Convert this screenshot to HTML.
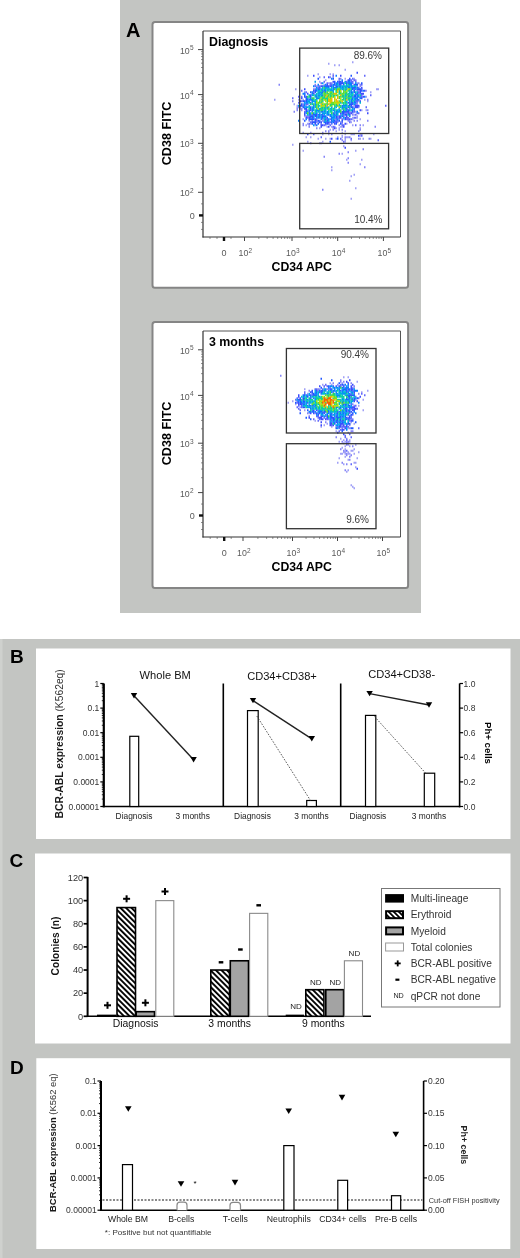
<!DOCTYPE html>
<html><head><meta charset="utf-8"><style>
html,body{margin:0;padding:0;background:#fff;}
svg{display:block;font-family:"Liberation Sans", sans-serif;filter:blur(0.35px);}
</style></head><body>
<svg width="520" height="1258" viewBox="0 0 520 1258">
<rect x="120.00" y="0.00" width="301.00" height="613.00" fill="#c3c5c2" stroke="none" stroke-width="1" />
<rect x="0.00" y="639.00" width="520.00" height="619.00" fill="#c3c5c2" stroke="none" stroke-width="1" />
<rect x="0.00" y="639.00" width="2.50" height="619.00" fill="#cfd1ce" stroke="none" stroke-width="1" />
<text x="126.00" y="37.00" font-size="20" text-anchor="start" font-weight="bold" fill="#000" >A</text>
<rect x="152.5" y="22" width="255.6" height="265.8" rx="2.5" fill="#fff" stroke="#858585" stroke-width="2"/>
<line x1="203.00" y1="31.00" x2="400.50" y2="31.00" stroke="#555" stroke-width="1" />
<line x1="400.50" y1="31.00" x2="400.50" y2="237.00" stroke="#555" stroke-width="1" />
<path d="M352.0 62.25h1.5M328.0 63.75h1.5M334.0 65.25h1.5M338.5 65.25h1.5M344.5 69.75h1.5M317.5 74.25h1.5M329.5 74.25h1.5M332.5 74.25h1.5M307.0 75.75h1.5M319.0 77.25h1.5M332.5 77.25h1.5M344.5 78.75h1.5M353.5 78.75h1.5M325.0 80.25h1.5M338.5 80.25h1.5M319.0 81.75h1.5M328.0 83.25h1.5M356.5 83.25h1.5M323.5 84.75h1.5M316.0 86.25h1.5M356.5 86.25h1.5M295.0 89.25h1.5M376.0 89.25h3.0M358.0 90.75h1.5M365.5 90.75h1.5M370.0 92.25h1.5M365.5 96.75h1.5M308.5 98.25h1.5M274.0 99.75h1.5M298.0 99.75h1.5M302.5 99.75h1.5M364.0 99.75h1.5M358.0 101.25h1.5M367.0 101.25h1.5M293.5 104.25h1.5M356.5 104.25h1.5M296.5 105.75h1.5M305.5 105.75h1.5M353.5 105.75h1.5M296.5 107.25h1.5M299.5 107.25h1.5M353.5 107.25h1.5M299.5 108.75h1.5M361.0 110.25h1.5M365.5 110.25h1.5M350.5 111.75h1.5M355.0 111.75h1.5M352.0 113.25h1.5M353.5 114.75h1.5M304.0 116.25h1.5M356.5 116.25h1.5M352.0 117.75h1.5M356.5 117.75h1.5M302.5 119.25h1.5M338.5 119.25h1.5M343.0 119.25h1.5M352.0 119.25h1.5M359.5 119.25h1.5M349.0 120.75h1.5M317.5 122.25h1.5M350.5 122.25h1.5M307.0 123.75h1.5M310.0 123.75h1.5M341.5 123.75h1.5M346.0 123.75h1.5M305.5 125.25h1.5M308.5 125.25h1.5M314.5 125.25h1.5M325.0 125.25h1.5M352.0 125.25h1.5M362.5 125.25h1.5M326.5 126.75h1.5M331.0 126.75h1.5M340.0 126.75h3.0M319.0 128.25h1.5M332.5 128.25h1.5M335.5 128.25h1.5M338.5 128.25h1.5M359.5 128.25h1.5M329.5 129.75h1.5M338.5 129.75h1.5M335.5 131.25h1.5M344.5 131.25h1.5M302.5 132.75h1.5M310.0 132.75h1.5M328.0 132.75h1.5M341.5 132.75h1.5M322.0 134.25h1.5M328.0 134.25h1.5M344.5 134.25h1.5M350.5 134.25h4.5M359.5 134.25h3.0M373.0 134.25h1.5M341.5 135.75h1.5M359.5 135.75h1.5M305.5 137.25h1.5M310.0 137.25h1.5M337.0 137.25h1.5M341.5 137.25h1.5M346.0 137.25h3.0M317.5 138.75h1.5M325.0 138.75h1.5M329.5 138.75h1.5M335.5 138.75h1.5M344.5 138.75h1.5M359.5 138.75h1.5M362.5 138.75h1.5M370.0 138.75h1.5M344.5 140.25h1.5M350.5 140.25h1.5M307.0 141.75h1.5M322.0 141.75h1.5M344.5 141.75h1.5M319.0 143.25h3.0M292.0 144.75h1.5M343.0 146.25h1.5M302.5 150.75h1.5M355.0 150.75h1.5M341.5 153.75h1.5M346.0 159.75h1.5M361.0 159.75h1.5M359.5 164.25h1.5M331.0 167.25h1.5M331.0 170.25h1.5M353.5 174.75h1.5M350.5 176.25h1.5M349.0 180.75h1.5M355.0 188.25h1.5M350.5 198.75h1.5" stroke="#a0a0f6" stroke-width="1.85" fill="none"/>
<path d="M329.5 77.25h1.5M340.0 78.75h1.5M355.0 80.25h1.5M331.0 83.25h1.5M358.0 83.25h1.5M278.5 84.75h1.5M314.5 84.75h1.5M359.5 84.75h1.5M317.5 86.25h1.5M359.5 86.25h1.5M313.0 89.25h1.5M356.5 90.75h1.5M304.0 92.25h1.5M313.0 92.25h1.5M358.0 93.75h1.5M367.0 99.75h1.5M292.0 101.25h1.5M356.5 102.75h1.5M302.5 104.25h1.5M298.0 107.25h1.5M358.0 107.25h1.5M296.5 108.75h1.5M301.0 108.75h1.5M296.5 110.25h1.5M301.0 110.25h1.5M307.0 110.25h1.5M367.0 110.25h1.5M293.5 111.75h1.5M349.0 111.75h1.5M344.5 113.25h3.0M340.0 114.75h1.5M352.0 114.75h1.5M305.5 116.25h3.0M322.0 119.25h1.5M334.0 119.25h1.5M308.5 120.75h1.5M311.5 120.75h1.5M322.0 120.75h1.5M347.5 120.75h1.5M353.5 120.75h1.5M356.5 120.75h1.5M367.0 120.75h1.5M316.0 122.25h1.5M337.0 122.25h1.5M340.0 122.25h1.5M302.5 123.75h1.5M320.5 123.75h1.5M302.5 125.25h1.5M338.5 125.25h1.5M359.5 125.25h1.5M308.5 126.75h1.5M334.0 126.75h1.5M374.5 126.75h1.5M316.0 128.25h1.5M332.5 129.75h1.5M341.5 129.75h1.5M359.5 129.75h1.5M325.0 131.25h1.5M328.0 131.25h1.5M358.0 131.25h1.5M322.0 132.75h1.5M331.0 134.25h1.5M344.5 137.25h1.5M349.0 137.25h1.5M358.0 138.75h1.5M368.5 138.75h1.5M341.5 140.25h1.5M310.0 143.25h1.5M362.5 149.25h1.5M347.5 152.25h1.5M338.5 153.75h1.5M323.5 156.75h1.5M347.5 158.25h1.5M347.5 162.75h1.5M364.0 167.25h1.5M322.0 189.75h1.5" stroke="#8484f8" stroke-width="1.85" fill="none"/>
<path d="M332.5 75.75h1.5M364.0 75.75h1.5M323.5 77.25h1.5M338.5 78.75h1.5M352.0 78.75h1.5M350.5 80.25h1.5M353.5 80.25h1.5M323.5 81.75h1.5M346.0 81.75h1.5M350.5 81.75h3.0M355.0 81.75h1.5M320.5 83.25h1.5M326.5 83.25h1.5M329.5 83.25h1.5M352.0 83.25h1.5M329.5 84.75h3.0M361.0 84.75h1.5M314.5 86.25h1.5M319.0 86.25h1.5M317.5 87.75h1.5M358.0 87.75h1.5M314.5 89.25h1.5M353.5 89.25h1.5M361.0 89.25h1.5M301.0 90.75h1.5M305.5 92.25h1.5M358.0 92.25h1.5M359.5 93.75h1.5M361.0 95.25h1.5M370.0 95.25h1.5M298.0 96.75h1.5M301.0 96.75h1.5M352.0 96.75h1.5M359.5 96.75h3.0M292.0 98.25h1.5M301.0 101.25h1.5M355.0 101.25h3.0M298.0 102.75h1.5M305.5 104.25h3.0M355.0 104.25h1.5M302.5 105.75h1.5M385.0 105.75h1.5M365.5 107.25h1.5M349.0 108.75h1.5M353.5 110.25h1.5M304.0 111.75h1.5M319.0 111.75h1.5M353.5 111.75h1.5M349.0 113.25h1.5M356.5 113.25h3.0M311.5 114.75h1.5M343.0 114.75h1.5M355.0 114.75h1.5M308.5 116.25h1.5M337.0 116.25h1.5M343.0 116.25h1.5M307.0 117.75h1.5M337.0 117.75h1.5M346.0 117.75h3.0M353.5 117.75h3.0M316.0 119.25h1.5M326.5 119.25h1.5M329.5 119.25h1.5M335.5 119.25h1.5M341.5 119.25h1.5M346.0 119.25h3.0M350.5 119.25h1.5M316.0 120.75h1.5M319.0 120.75h1.5M323.5 120.75h1.5M335.5 120.75h3.0M310.0 122.25h1.5M329.5 122.25h1.5M334.0 122.25h1.5M341.5 122.25h1.5M349.0 122.25h1.5M308.5 123.75h1.5M328.0 123.75h1.5M331.0 123.75h1.5M323.5 125.25h1.5M329.5 125.25h1.5M341.5 125.25h3.0M355.0 125.25h1.5M332.5 126.75h1.5M313.0 134.25h1.5M361.0 135.75h1.5M320.5 137.25h1.5M340.0 138.75h1.5M350.5 138.75h1.5M377.5 140.25h1.5M343.0 141.75h1.5" stroke="#6368fb" stroke-width="1.85" fill="none"/>
<path d="M356.5 72.75h1.5M313.0 75.75h1.5M340.0 75.75h1.5M328.0 77.25h1.5M349.0 78.75h1.5M347.5 80.25h1.5M332.5 81.75h1.5M338.5 81.75h1.5M341.5 81.75h1.5M338.5 83.25h4.5M347.5 83.25h1.5M326.5 84.75h1.5M353.5 84.75h1.5M320.5 86.25h3.0M325.0 86.25h3.0M329.5 86.25h1.5M337.0 86.25h1.5M361.0 87.75h1.5M304.0 89.25h1.5M317.5 89.25h3.0M356.5 89.25h1.5M313.0 90.75h1.5M361.0 90.75h1.5M364.0 90.75h1.5M353.5 92.25h1.5M307.0 93.75h1.5M313.0 93.75h1.5M361.0 93.75h3.0M310.0 95.25h1.5M305.5 96.75h1.5M362.5 96.75h1.5M301.0 98.25h1.5M356.5 99.75h1.5M299.5 101.25h1.5M304.0 101.25h1.5M359.5 101.25h1.5M310.0 102.75h1.5M347.5 102.75h1.5M350.5 102.75h1.5M352.0 104.25h1.5M299.5 105.75h1.5M350.5 105.75h1.5M355.0 105.75h4.5M352.0 107.25h1.5M355.0 107.25h3.0M304.0 108.75h3.0M305.5 110.25h1.5M310.0 110.25h1.5M359.5 110.25h1.5M346.0 111.75h3.0M304.0 113.25h1.5M308.5 113.25h1.5M332.5 113.25h1.5M340.0 113.25h1.5M350.5 113.25h1.5M367.0 113.25h1.5M304.0 114.75h1.5M316.0 114.75h1.5M322.0 114.75h1.5M334.0 114.75h1.5M346.0 114.75h1.5M349.0 114.75h1.5M310.0 116.25h3.0M316.0 116.25h1.5M319.0 116.25h1.5M338.5 116.25h1.5M346.0 116.25h1.5M305.5 117.75h1.5M308.5 117.75h1.5M311.5 117.75h1.5M317.5 117.75h1.5M322.0 117.75h1.5M338.5 117.75h3.0M308.5 119.25h1.5M314.5 119.25h1.5M325.0 119.25h1.5M349.0 119.25h1.5M314.5 120.75h1.5M311.5 122.25h1.5M320.5 122.25h1.5M326.5 122.25h3.0M335.5 122.25h1.5M314.5 123.75h1.5M325.0 123.75h1.5M334.0 123.75h1.5M344.5 123.75h1.5M320.5 125.25h3.0M320.5 126.75h1.5M328.0 126.75h1.5M343.0 126.75h1.5M334.0 128.25h1.5M307.0 134.25h1.5M358.0 135.75h1.5M331.0 138.75h1.5M344.5 147.75h1.5" stroke="#3d4cfd" stroke-width="1.85" fill="none"/>
<path d="M350.5 75.75h1.5M317.5 78.75h1.5M332.5 78.75h1.5M349.0 80.25h1.5M334.0 81.75h1.5M337.0 81.75h1.5M340.0 81.75h1.5M334.0 83.25h1.5M346.0 83.25h1.5M361.0 83.25h1.5M334.0 84.75h1.5M338.5 84.75h3.0M343.0 84.75h1.5M355.0 84.75h3.0M328.0 86.25h1.5M331.0 86.25h1.5M335.5 86.25h1.5M347.5 87.75h3.0M352.0 87.75h4.5M352.0 89.25h1.5M358.0 89.25h3.0M314.5 90.75h3.0M323.5 90.75h1.5M353.5 90.75h1.5M359.5 90.75h1.5M310.0 92.25h1.5M314.5 92.25h1.5M322.0 92.25h1.5M350.5 92.25h1.5M359.5 92.25h1.5M356.5 93.75h1.5M304.0 95.25h1.5M322.0 95.25h1.5M355.0 95.25h1.5M304.0 96.75h1.5M310.0 96.75h1.5M316.0 96.75h1.5M353.5 96.75h3.0M305.5 98.25h1.5M361.0 98.25h1.5M305.5 99.75h3.0M302.5 101.25h1.5M305.5 101.25h1.5M352.0 102.75h1.5M301.0 104.25h1.5M349.0 104.25h3.0M301.0 105.75h1.5M349.0 105.75h1.5M302.5 107.25h1.5M310.0 107.25h1.5M313.0 107.25h1.5M347.5 107.25h1.5M350.5 107.25h1.5M310.0 108.75h1.5M346.0 108.75h1.5M343.0 110.25h1.5M347.5 110.25h1.5M352.0 110.25h1.5M305.5 111.75h1.5M322.0 111.75h1.5M335.5 111.75h1.5M341.5 111.75h4.5M352.0 111.75h1.5M341.5 113.25h3.0M347.5 113.25h1.5M313.0 114.75h3.0M319.0 114.75h1.5M328.0 114.75h1.5M344.5 114.75h1.5M314.5 116.25h1.5M322.0 116.25h4.5M335.5 116.25h1.5M341.5 116.25h1.5M326.5 117.75h1.5M335.5 117.75h1.5M344.5 117.75h1.5M310.0 119.25h4.5M344.5 119.25h1.5M304.0 120.75h1.5M317.5 120.75h1.5M326.5 120.75h1.5M331.0 120.75h1.5M334.0 120.75h1.5M338.5 120.75h1.5M341.5 120.75h1.5M313.0 122.25h3.0M319.0 122.25h1.5M325.0 122.25h1.5M332.5 122.25h1.5M311.5 123.75h1.5M317.5 123.75h1.5M326.5 123.75h1.5M335.5 123.75h1.5M340.0 123.75h1.5M337.0 138.75h1.5M329.5 141.75h1.5" stroke="#2157ff" stroke-width="1.85" fill="none"/>
<path d="M335.5 75.75h1.5M331.0 78.75h1.5M341.5 80.25h1.5M344.5 81.75h1.5M347.5 81.75h3.0M335.5 83.25h3.0M343.0 83.25h1.5M349.0 83.25h3.0M317.5 84.75h1.5M325.0 84.75h1.5M332.5 84.75h1.5M335.5 84.75h1.5M349.0 84.75h3.0M313.0 86.25h1.5M323.5 86.25h1.5M332.5 86.25h1.5M338.5 86.25h3.0M350.5 86.25h1.5M316.0 87.75h1.5M319.0 87.75h1.5M328.0 87.75h1.5M332.5 87.75h4.5M341.5 87.75h1.5M344.5 87.75h1.5M356.5 87.75h1.5M332.5 89.25h1.5M346.0 89.25h1.5M322.0 90.75h1.5M325.0 90.75h1.5M350.5 90.75h1.5M362.5 90.75h1.5M311.5 92.25h1.5M325.0 92.25h1.5M302.5 93.75h3.0M311.5 93.75h1.5M320.5 93.75h1.5M355.0 93.75h1.5M314.5 95.25h1.5M317.5 95.25h3.0M353.5 95.25h1.5M356.5 95.25h1.5M347.5 96.75h1.5M356.5 96.75h3.0M364.0 96.75h1.5M310.0 98.25h1.5M316.0 98.25h3.0M352.0 98.25h1.5M355.0 98.25h3.0M359.5 98.25h1.5M308.5 99.75h4.5M350.5 99.75h3.0M355.0 99.75h1.5M358.0 99.75h1.5M311.5 101.25h1.5M350.5 101.25h1.5M353.5 101.25h1.5M305.5 102.75h3.0M353.5 102.75h3.0M304.0 104.25h1.5M314.5 104.25h1.5M304.0 105.75h1.5M313.0 105.75h1.5M341.5 105.75h6.0M305.5 107.25h1.5M326.5 107.25h1.5M341.5 107.25h1.5M311.5 108.75h1.5M353.5 108.75h1.5M308.5 110.25h1.5M311.5 110.25h1.5M316.0 110.25h3.0M332.5 110.25h1.5M338.5 110.25h1.5M346.0 110.25h1.5M308.5 111.75h1.5M311.5 111.75h1.5M320.5 111.75h1.5M323.5 111.75h1.5M326.5 111.75h1.5M356.5 111.75h1.5M313.0 113.25h1.5M316.0 113.25h1.5M326.5 113.25h1.5M335.5 113.25h1.5M308.5 114.75h3.0M317.5 114.75h1.5M320.5 114.75h1.5M329.5 114.75h1.5M335.5 114.75h1.5M329.5 116.25h3.0M334.0 116.25h1.5M340.0 116.25h1.5M349.0 116.25h1.5M310.0 117.75h1.5M313.0 117.75h1.5M320.5 117.75h1.5M331.0 117.75h3.0M305.5 119.25h1.5M320.5 119.25h1.5M328.0 119.25h1.5M331.0 119.25h1.5M337.0 119.25h1.5M298.0 120.75h1.5M332.5 120.75h1.5M323.5 122.25h1.5M331.0 122.25h1.5M316.0 125.25h1.5" stroke="#0d7cff" stroke-width="1.85" fill="none"/>
<path d="M314.5 81.75h1.5M322.0 83.25h1.5M355.0 83.25h1.5M346.0 84.75h1.5M341.5 86.25h1.5M346.0 86.25h4.5M353.5 86.25h1.5M325.0 87.75h3.0M340.0 87.75h1.5M350.5 87.75h1.5M316.0 89.25h1.5M320.5 89.25h1.5M323.5 89.25h3.0M331.0 89.25h1.5M341.5 89.25h1.5M355.0 89.25h1.5M317.5 90.75h1.5M329.5 90.75h4.5M319.0 92.25h3.0M332.5 92.25h1.5M349.0 92.25h1.5M352.0 92.25h1.5M356.5 92.25h1.5M317.5 93.75h3.0M350.5 93.75h1.5M308.5 95.25h1.5M311.5 95.25h1.5M320.5 95.25h1.5M349.0 95.25h1.5M307.0 98.25h1.5M319.0 98.25h1.5M344.5 98.25h1.5M353.5 98.25h1.5M307.0 101.25h3.0M313.0 101.25h3.0M346.0 101.25h1.5M304.0 102.75h1.5M314.5 102.75h1.5M340.0 102.75h1.5M349.0 102.75h1.5M311.5 104.25h1.5M353.5 104.25h1.5M298.0 105.75h1.5M308.5 105.75h1.5M325.0 105.75h1.5M347.5 105.75h1.5M304.0 107.25h1.5M307.0 107.25h1.5M322.0 107.25h1.5M331.0 107.25h1.5M335.5 107.25h1.5M343.0 107.25h3.0M313.0 108.75h1.5M338.5 108.75h1.5M341.5 108.75h1.5M344.5 108.75h1.5M352.0 108.75h1.5M313.0 110.25h1.5M323.5 110.25h1.5M334.0 110.25h1.5M337.0 110.25h1.5M349.0 110.25h1.5M307.0 111.75h1.5M316.0 111.75h1.5M334.0 111.75h1.5M337.0 111.75h3.0M305.5 113.25h1.5M310.0 113.25h1.5M322.0 113.25h4.5M337.0 113.25h1.5M323.5 114.75h1.5M326.5 114.75h1.5M332.5 114.75h1.5M341.5 114.75h1.5M313.0 116.25h1.5M317.5 116.25h1.5M320.5 116.25h1.5M332.5 116.25h1.5M316.0 117.75h1.5M319.0 117.75h1.5M323.5 117.75h3.0M334.0 117.75h1.5M343.0 117.75h1.5M332.5 119.25h1.5M328.0 120.75h1.5M313.0 125.25h1.5" stroke="#009ff2" stroke-width="1.85" fill="none"/>
<path d="M337.0 84.75h1.5M343.0 86.25h3.0M352.0 86.25h1.5M355.0 86.25h1.5M322.0 87.75h1.5M331.0 87.75h1.5M337.0 87.75h1.5M343.0 87.75h1.5M322.0 89.25h1.5M326.5 89.25h4.5M335.5 89.25h1.5M340.0 89.25h1.5M343.0 89.25h1.5M350.5 89.25h1.5M319.0 90.75h1.5M326.5 90.75h1.5M338.5 90.75h1.5M344.5 90.75h1.5M349.0 90.75h1.5M317.5 92.25h1.5M338.5 92.25h1.5M355.0 92.25h1.5M316.0 93.75h1.5M326.5 93.75h1.5M344.5 93.75h1.5M347.5 93.75h1.5M352.0 93.75h1.5M316.0 95.25h1.5M344.5 95.25h3.0M350.5 95.25h1.5M358.0 95.25h1.5M314.5 96.75h1.5M317.5 96.75h3.0M343.0 96.75h1.5M349.0 96.75h3.0M314.5 99.75h3.0M320.5 99.75h1.5M347.5 99.75h3.0M353.5 99.75h1.5M322.0 101.25h1.5M349.0 101.25h1.5M308.5 102.75h1.5M311.5 102.75h1.5M320.5 102.75h1.5M346.0 102.75h1.5M359.5 102.75h1.5M326.5 104.25h1.5M338.5 104.25h1.5M344.5 104.25h1.5M314.5 105.75h1.5M317.5 105.75h1.5M335.5 105.75h1.5M338.5 105.75h1.5M308.5 107.25h1.5M311.5 107.25h1.5M314.5 107.25h1.5M317.5 107.25h1.5M334.0 107.25h1.5M340.0 107.25h1.5M316.0 108.75h1.5M319.0 108.75h3.0M323.5 108.75h3.0M329.5 108.75h3.0M334.0 108.75h1.5M319.0 110.25h1.5M325.0 110.25h1.5M328.0 110.25h1.5M331.0 110.25h1.5M350.5 110.25h1.5M317.5 111.75h1.5M325.0 111.75h1.5M328.0 111.75h1.5M314.5 113.25h1.5M319.0 113.25h1.5M328.0 113.25h1.5M334.0 113.25h1.5M307.0 114.75h1.5M331.0 114.75h1.5M337.0 114.75h1.5M347.5 114.75h1.5M323.5 119.25h1.5M325.0 120.75h1.5" stroke="#00bbcf" stroke-width="1.85" fill="none"/>
<path d="M344.5 83.25h1.5M347.5 84.75h1.5M338.5 87.75h1.5M346.0 87.75h1.5M344.5 89.25h1.5M320.5 90.75h1.5M328.0 90.75h1.5M347.5 90.75h1.5M335.5 92.25h1.5M322.0 93.75h1.5M331.0 93.75h1.5M338.5 93.75h3.0M349.0 93.75h1.5M313.0 95.25h1.5M329.5 95.25h1.5M332.5 95.25h1.5M335.5 95.25h1.5M341.5 95.25h1.5M352.0 95.25h1.5M359.5 95.25h1.5M308.5 96.75h1.5M320.5 96.75h1.5M323.5 96.75h1.5M329.5 96.75h1.5M340.0 96.75h1.5M344.5 96.75h1.5M322.0 98.25h6.0M346.0 98.25h1.5M350.5 98.25h1.5M313.0 99.75h1.5M326.5 99.75h1.5M341.5 99.75h1.5M344.5 99.75h1.5M326.5 101.25h1.5M344.5 101.25h1.5M352.0 101.25h1.5M343.0 102.75h1.5M316.0 104.25h1.5M322.0 104.25h1.5M329.5 104.25h1.5M343.0 104.25h1.5M346.0 104.25h1.5M319.0 105.75h1.5M325.0 107.25h1.5M328.0 107.25h1.5M346.0 107.25h1.5M349.0 107.25h1.5M308.5 108.75h1.5M326.5 108.75h1.5M314.5 110.25h1.5M322.0 110.25h1.5M329.5 110.25h1.5M335.5 110.25h1.5M344.5 110.25h1.5M314.5 111.75h1.5M329.5 111.75h3.0" stroke="#0cd09e" stroke-width="1.85" fill="none"/>
<path d="M323.5 87.75h1.5M334.0 89.25h1.5M335.5 90.75h1.5M323.5 92.25h1.5M343.0 92.25h1.5M346.0 92.25h1.5M329.5 93.75h1.5M346.0 93.75h1.5M325.0 95.25h1.5M328.0 95.25h1.5M334.0 95.25h1.5M343.0 95.25h1.5M347.5 95.25h1.5M307.0 96.75h1.5M322.0 96.75h1.5M326.5 96.75h1.5M332.5 96.75h1.5M338.5 96.75h1.5M341.5 96.75h1.5M311.5 98.25h3.0M338.5 98.25h1.5M343.0 98.25h1.5M347.5 98.25h3.0M322.0 99.75h1.5M343.0 99.75h1.5M319.0 101.25h1.5M338.5 101.25h1.5M319.0 102.75h1.5M341.5 102.75h1.5M344.5 102.75h1.5M310.0 104.25h1.5M313.0 104.25h1.5M317.5 104.25h1.5M331.0 104.25h3.0M335.5 104.25h1.5M329.5 105.75h1.5M334.0 105.75h1.5M337.0 105.75h1.5M340.0 105.75h1.5M323.5 107.25h1.5M322.0 108.75h1.5M332.5 108.75h1.5M343.0 108.75h1.5M320.5 110.25h1.5M340.0 110.25h1.5M340.0 111.75h1.5M331.0 113.25h1.5" stroke="#2dd85a" stroke-width="1.85" fill="none"/>
<path d="M337.0 89.25h3.0M349.0 89.25h1.5M343.0 90.75h1.5M326.5 92.25h1.5M329.5 92.25h3.0M340.0 92.25h1.5M344.5 92.25h1.5M323.5 93.75h3.0M328.0 93.75h1.5M332.5 93.75h1.5M341.5 93.75h3.0M323.5 95.25h1.5M331.0 95.25h1.5M337.0 95.25h1.5M328.0 96.75h1.5M331.0 96.75h1.5M346.0 96.75h1.5M329.5 98.25h1.5M325.0 99.75h1.5M316.0 101.25h1.5M320.5 101.25h1.5M334.0 101.25h1.5M340.0 101.25h1.5M317.5 102.75h1.5M326.5 102.75h1.5M331.0 102.75h3.0M323.5 104.25h3.0M334.0 104.25h1.5M316.0 105.75h1.5M331.0 105.75h1.5M316.0 107.25h1.5M320.5 107.25h1.5M328.0 108.75h1.5M307.0 113.25h1.5M311.5 113.25h1.5" stroke="#64de2a" stroke-width="1.85" fill="none"/>
<path d="M347.5 89.25h1.5M340.0 90.75h1.5M346.0 90.75h1.5M337.0 92.25h1.5M334.0 96.75h1.5M320.5 98.25h1.5M328.0 98.25h1.5M340.0 98.25h1.5M319.0 99.75h1.5M323.5 99.75h1.5M334.0 99.75h1.5M340.0 99.75h1.5M325.0 101.25h1.5M316.0 102.75h1.5M322.0 102.75h1.5M334.0 102.75h6.0M320.5 105.75h4.5M338.5 107.25h1.5M317.5 108.75h1.5" stroke="#abe30c" stroke-width="1.85" fill="none"/>
<path d="M337.0 90.75h1.5M334.0 93.75h3.0M326.5 95.25h1.5M340.0 95.25h1.5M325.0 96.75h1.5M337.0 96.75h1.5M331.0 98.25h1.5M334.0 98.25h1.5M337.0 98.25h1.5M328.0 99.75h4.5M335.5 99.75h1.5M346.0 99.75h1.5M328.0 101.25h4.5M335.5 101.25h3.0M341.5 101.25h1.5M329.5 102.75h1.5M320.5 104.25h1.5M328.0 104.25h1.5M337.0 104.25h1.5M326.5 105.75h1.5" stroke="#e5c000" stroke-width="1.85" fill="none"/>
<rect x="299.70" y="48.10" width="89.00" height="85.40" fill="none" stroke="#333" stroke-width="1.3" />
<rect x="299.70" y="143.40" width="88.90" height="85.40" fill="none" stroke="#333" stroke-width="1.3" />
<text x="382.00" y="59.20" font-size="10" text-anchor="end" font-weight="normal" fill="#3a3a3a" >89.6%</text>
<text x="382.50" y="223.10" font-size="10" text-anchor="end" font-weight="normal" fill="#3a3a3a" >10.4%</text>
<line x1="203.00" y1="31.00" x2="203.00" y2="237.50" stroke="#333" stroke-width="1.2" />
<line x1="202.50" y1="237.00" x2="400.50" y2="237.00" stroke="#333" stroke-width="1.2" />
<line x1="198.00" y1="49.60" x2="203.00" y2="49.60" stroke="#444" stroke-width="1" />
<text x="189.7" y="53.7" font-size="8.8" text-anchor="end" fill="#5a5a5a">10</text><text x="190.0" y="50.2" font-size="6.5" fill="#5a5a5a">5</text>
<line x1="198.00" y1="94.60" x2="203.00" y2="94.60" stroke="#444" stroke-width="1" />
<text x="189.7" y="98.7" font-size="8.8" text-anchor="end" fill="#5a5a5a">10</text><text x="190.0" y="95.2" font-size="6.5" fill="#5a5a5a">4</text>
<line x1="198.00" y1="143.30" x2="203.00" y2="143.30" stroke="#444" stroke-width="1" />
<text x="189.7" y="147.4" font-size="8.8" text-anchor="end" fill="#5a5a5a">10</text><text x="190.0" y="143.9" font-size="6.5" fill="#5a5a5a">3</text>
<line x1="198.00" y1="192.30" x2="203.00" y2="192.30" stroke="#444" stroke-width="1" />
<text x="189.7" y="196.4" font-size="8.8" text-anchor="end" fill="#5a5a5a">10</text><text x="190.0" y="192.9" font-size="6.5" fill="#5a5a5a">2</text>
<line x1="201.20" y1="81.05" x2="203.00" y2="81.05" stroke="#666" stroke-width="0.9" />
<line x1="201.20" y1="73.13" x2="203.00" y2="73.13" stroke="#666" stroke-width="0.9" />
<line x1="201.20" y1="67.51" x2="203.00" y2="67.51" stroke="#666" stroke-width="0.9" />
<line x1="201.20" y1="63.15" x2="203.00" y2="63.15" stroke="#666" stroke-width="0.9" />
<line x1="201.20" y1="59.58" x2="203.00" y2="59.58" stroke="#666" stroke-width="0.9" />
<line x1="201.20" y1="56.57" x2="203.00" y2="56.57" stroke="#666" stroke-width="0.9" />
<line x1="201.20" y1="53.96" x2="203.00" y2="53.96" stroke="#666" stroke-width="0.9" />
<line x1="201.20" y1="51.66" x2="203.00" y2="51.66" stroke="#666" stroke-width="0.9" />
<line x1="201.20" y1="128.64" x2="203.00" y2="128.64" stroke="#666" stroke-width="0.9" />
<line x1="201.20" y1="120.06" x2="203.00" y2="120.06" stroke="#666" stroke-width="0.9" />
<line x1="201.20" y1="113.98" x2="203.00" y2="113.98" stroke="#666" stroke-width="0.9" />
<line x1="201.20" y1="109.26" x2="203.00" y2="109.26" stroke="#666" stroke-width="0.9" />
<line x1="201.20" y1="105.40" x2="203.00" y2="105.40" stroke="#666" stroke-width="0.9" />
<line x1="201.20" y1="102.14" x2="203.00" y2="102.14" stroke="#666" stroke-width="0.9" />
<line x1="201.20" y1="99.32" x2="203.00" y2="99.32" stroke="#666" stroke-width="0.9" />
<line x1="201.20" y1="96.83" x2="203.00" y2="96.83" stroke="#666" stroke-width="0.9" />
<line x1="201.20" y1="177.55" x2="203.00" y2="177.55" stroke="#666" stroke-width="0.9" />
<line x1="201.20" y1="168.92" x2="203.00" y2="168.92" stroke="#666" stroke-width="0.9" />
<line x1="201.20" y1="162.80" x2="203.00" y2="162.80" stroke="#666" stroke-width="0.9" />
<line x1="201.20" y1="158.05" x2="203.00" y2="158.05" stroke="#666" stroke-width="0.9" />
<line x1="201.20" y1="154.17" x2="203.00" y2="154.17" stroke="#666" stroke-width="0.9" />
<line x1="201.20" y1="150.89" x2="203.00" y2="150.89" stroke="#666" stroke-width="0.9" />
<line x1="201.20" y1="148.05" x2="203.00" y2="148.05" stroke="#666" stroke-width="0.9" />
<line x1="201.20" y1="145.54" x2="203.00" y2="145.54" stroke="#666" stroke-width="0.9" />
<rect x="199.00" y="214.20" width="4.00" height="2.40" fill="#111" stroke="none" stroke-width="1" />
<text x="192.30" y="218.60" font-size="9" text-anchor="middle" font-weight="normal" fill="#5a5a5a" >0</text>
<line x1="201.20" y1="203.85" x2="203.00" y2="203.85" stroke="#666" stroke-width="0.9" />
<line x1="201.20" y1="222.40" x2="203.00" y2="222.40" stroke="#666" stroke-width="0.9" />
<line x1="201.20" y1="229.40" x2="203.00" y2="229.40" stroke="#666" stroke-width="0.9" />
<line x1="244.50" y1="237.00" x2="244.50" y2="241.00" stroke="#444" stroke-width="1" />
<text x="243.5" y="256.4" font-size="8.8" text-anchor="middle" fill="#5a5a5a">10</text><text x="248.6" y="252.6" font-size="6.5" fill="#5a5a5a">2</text>
<line x1="292.00" y1="237.00" x2="292.00" y2="241.00" stroke="#444" stroke-width="1" />
<text x="291.0" y="256.4" font-size="8.8" text-anchor="middle" fill="#5a5a5a">10</text><text x="296.1" y="252.6" font-size="6.5" fill="#5a5a5a">3</text>
<line x1="337.70" y1="237.00" x2="337.70" y2="241.00" stroke="#444" stroke-width="1" />
<text x="336.7" y="256.4" font-size="8.8" text-anchor="middle" fill="#5a5a5a">10</text><text x="341.8" y="252.6" font-size="6.5" fill="#5a5a5a">4</text>
<line x1="383.40" y1="237.00" x2="383.40" y2="241.00" stroke="#444" stroke-width="1" />
<text x="382.4" y="256.4" font-size="8.8" text-anchor="middle" fill="#5a5a5a">10</text><text x="387.5" y="252.6" font-size="6.5" fill="#5a5a5a">5</text>
<line x1="258.80" y1="237.00" x2="258.80" y2="238.80" stroke="#666" stroke-width="0.9" />
<line x1="267.16" y1="237.00" x2="267.16" y2="238.80" stroke="#666" stroke-width="0.9" />
<line x1="273.10" y1="237.00" x2="273.10" y2="238.80" stroke="#666" stroke-width="0.9" />
<line x1="277.70" y1="237.00" x2="277.70" y2="238.80" stroke="#666" stroke-width="0.9" />
<line x1="281.46" y1="237.00" x2="281.46" y2="238.80" stroke="#666" stroke-width="0.9" />
<line x1="284.64" y1="237.00" x2="284.64" y2="238.80" stroke="#666" stroke-width="0.9" />
<line x1="287.40" y1="237.00" x2="287.40" y2="238.80" stroke="#666" stroke-width="0.9" />
<line x1="289.83" y1="237.00" x2="289.83" y2="238.80" stroke="#666" stroke-width="0.9" />
<line x1="305.76" y1="237.00" x2="305.76" y2="238.80" stroke="#666" stroke-width="0.9" />
<line x1="313.80" y1="237.00" x2="313.80" y2="238.80" stroke="#666" stroke-width="0.9" />
<line x1="319.51" y1="237.00" x2="319.51" y2="238.80" stroke="#666" stroke-width="0.9" />
<line x1="323.94" y1="237.00" x2="323.94" y2="238.80" stroke="#666" stroke-width="0.9" />
<line x1="327.56" y1="237.00" x2="327.56" y2="238.80" stroke="#666" stroke-width="0.9" />
<line x1="330.62" y1="237.00" x2="330.62" y2="238.80" stroke="#666" stroke-width="0.9" />
<line x1="333.27" y1="237.00" x2="333.27" y2="238.80" stroke="#666" stroke-width="0.9" />
<line x1="335.61" y1="237.00" x2="335.61" y2="238.80" stroke="#666" stroke-width="0.9" />
<line x1="351.46" y1="237.00" x2="351.46" y2="238.80" stroke="#666" stroke-width="0.9" />
<line x1="359.50" y1="237.00" x2="359.50" y2="238.80" stroke="#666" stroke-width="0.9" />
<line x1="365.21" y1="237.00" x2="365.21" y2="238.80" stroke="#666" stroke-width="0.9" />
<line x1="369.64" y1="237.00" x2="369.64" y2="238.80" stroke="#666" stroke-width="0.9" />
<line x1="373.26" y1="237.00" x2="373.26" y2="238.80" stroke="#666" stroke-width="0.9" />
<line x1="376.32" y1="237.00" x2="376.32" y2="238.80" stroke="#666" stroke-width="0.9" />
<line x1="378.97" y1="237.00" x2="378.97" y2="238.80" stroke="#666" stroke-width="0.9" />
<line x1="381.31" y1="237.00" x2="381.31" y2="238.80" stroke="#666" stroke-width="0.9" />
<rect x="222.80" y="237.00" width="2.40" height="4.00" fill="#111" stroke="none" stroke-width="1" />
<text x="224.00" y="256.40" font-size="9" text-anchor="middle" font-weight="normal" fill="#5a5a5a" >0</text>
<line x1="210.00" y1="237.00" x2="210.00" y2="238.80" stroke="#666" stroke-width="0.9" />
<line x1="217.00" y1="237.00" x2="217.00" y2="238.80" stroke="#666" stroke-width="0.9" />
<line x1="231.00" y1="237.00" x2="231.00" y2="238.80" stroke="#666" stroke-width="0.9" />
<text x="209.00" y="46.30" font-size="12.4" text-anchor="start" font-weight="bold" fill="#000" >Diagnosis</text>
<text x="271.50" y="271.30" font-size="12.3" text-anchor="start" font-weight="bold" fill="#000" >CD34 APC</text>
<text transform="translate(171.2,133.4) rotate(-90)" font-size="12.6" font-weight="bold" text-anchor="middle">CD38 FITC</text>
<rect x="152.5" y="322" width="255.6" height="266" rx="2.5" fill="#fff" stroke="#858585" stroke-width="2"/>
<line x1="203.00" y1="331.00" x2="400.50" y2="331.00" stroke="#555" stroke-width="1" />
<line x1="400.50" y1="331.00" x2="400.50" y2="537.00" stroke="#555" stroke-width="1" />
<path d="M343.0 377.25h1.5M347.5 377.25h1.5M356.5 381.75h1.5M329.5 383.25h1.5M341.5 383.25h1.5M322.0 384.75h1.5M331.0 384.75h1.5M323.5 387.75h1.5M353.5 387.75h1.5M304.0 389.25h1.5M319.0 389.25h1.5M367.0 390.75h1.5M361.0 392.25h1.5M307.0 393.75h1.5M362.5 399.75h1.5M292.0 401.25h1.5M287.5 402.75h1.5M295.0 404.25h1.5M358.0 405.75h1.5M299.5 407.25h1.5M304.0 410.25h1.5M362.5 410.25h1.5M308.5 413.25h1.5M350.5 419.25h1.5M314.5 420.75h1.5M350.5 422.25h1.5M326.5 423.75h1.5M353.5 423.75h1.5M323.5 425.25h1.5M341.5 425.25h1.5M320.5 426.75h1.5M331.0 426.75h1.5M347.5 428.25h1.5M335.5 431.25h1.5M347.5 432.75h1.5M340.0 438.75h1.5M343.0 440.25h1.5M349.0 440.25h1.5M338.5 441.75h1.5M344.5 441.75h3.0M349.0 441.75h1.5M343.0 443.25h1.5M347.5 443.25h1.5M347.5 444.75h1.5M355.0 444.75h1.5M344.5 446.25h1.5M349.0 446.25h1.5M341.5 447.75h1.5M344.5 449.25h1.5M353.5 449.25h1.5M344.5 450.75h1.5M350.5 450.75h3.0M343.0 452.25h3.0M347.5 452.25h1.5M358.0 452.25h1.5M340.0 453.75h3.0M344.5 453.75h1.5M347.5 453.75h3.0M353.5 453.75h1.5M344.5 456.75h1.5M338.5 458.25h1.5M356.5 458.25h1.5M347.5 459.75h1.5M337.0 462.75h1.5M353.5 462.75h3.0M343.0 464.25h1.5M355.0 467.25h1.5M347.5 470.25h1.5M346.0 471.75h1.5M350.5 485.25h1.5M352.0 486.75h1.5M353.5 488.25h1.5" stroke="#a0a0f6" stroke-width="1.85" fill="none"/>
<path d="M280.0 375.75h1.5M340.0 380.25h1.5M340.0 381.75h1.5M343.0 381.75h1.5M332.5 383.25h1.5M350.5 383.25h1.5M337.0 384.75h1.5M343.0 384.75h1.5M353.5 386.25h1.5M329.5 387.75h1.5M352.0 387.75h1.5M317.5 389.25h1.5M326.5 389.25h3.0M308.5 390.75h1.5M317.5 390.75h1.5M358.0 393.75h1.5M355.0 399.75h1.5M352.0 404.25h1.5M353.5 405.75h1.5M307.0 413.25h1.5M314.5 413.25h1.5M308.5 416.25h1.5M350.5 416.25h1.5M328.0 419.25h1.5M352.0 419.25h1.5M325.0 422.25h1.5M349.0 425.25h1.5M335.5 426.75h1.5M341.5 428.25h1.5M349.0 428.25h1.5M350.5 431.25h3.0M335.5 437.25h1.5M346.0 438.75h1.5M341.5 441.75h1.5M347.5 441.75h1.5M346.0 444.75h1.5M352.0 446.25h1.5M340.0 449.25h1.5M343.0 450.75h1.5M346.0 453.75h1.5M346.0 455.25h1.5M350.5 455.25h1.5M349.0 456.75h1.5M349.0 459.75h1.5M341.5 462.75h1.5M346.0 464.25h1.5M344.5 470.25h1.5" stroke="#8484f8" stroke-width="1.85" fill="none"/>
<path d="M325.0 384.75h1.5M340.0 384.75h1.5M323.5 386.25h1.5M326.5 386.25h1.5M340.0 386.25h1.5M347.5 386.25h1.5M344.5 387.75h1.5M314.5 389.25h3.0M322.0 389.25h1.5M347.5 390.75h1.5M352.0 390.75h1.5M304.0 392.25h1.5M332.5 392.25h1.5M304.0 393.75h1.5M311.5 393.75h1.5M350.5 393.75h1.5M353.5 393.75h1.5M361.0 393.75h1.5M307.0 395.25h1.5M311.5 395.25h1.5M364.0 395.25h1.5M355.0 396.75h1.5M296.5 398.25h1.5M350.5 398.25h1.5M358.0 398.25h1.5M295.0 399.75h1.5M296.5 401.25h1.5M296.5 402.75h1.5M350.5 404.25h1.5M298.0 405.75h1.5M301.0 405.75h1.5M355.0 405.75h1.5M296.5 407.25h1.5M301.0 407.25h1.5M313.0 407.25h1.5M298.0 408.75h1.5M350.5 408.75h3.0M356.5 408.75h1.5M299.5 410.25h1.5M311.5 410.25h1.5M317.5 410.25h1.5M322.0 411.75h1.5M347.5 411.75h1.5M317.5 413.25h1.5M349.0 413.25h1.5M335.5 414.75h1.5M352.0 414.75h1.5M316.0 416.25h3.0M325.0 416.25h1.5M317.5 417.75h1.5M323.5 417.75h1.5M334.0 417.75h1.5M341.5 417.75h1.5M347.5 417.75h1.5M350.5 417.75h1.5M313.0 419.25h1.5M319.0 419.25h1.5M326.5 419.25h1.5M331.0 419.25h1.5M349.0 419.25h1.5M317.5 420.75h1.5M329.5 420.75h1.5M349.0 420.75h1.5M331.0 422.25h1.5M343.0 423.75h1.5M331.0 425.25h1.5M337.0 426.75h1.5M341.5 426.75h4.5M347.5 426.75h1.5M338.5 428.25h1.5M358.0 428.25h1.5M340.0 429.75h1.5M338.5 431.25h1.5M349.0 434.25h1.5M344.5 435.75h1.5M344.5 437.25h1.5M350.5 437.25h1.5M346.0 440.25h1.5M346.0 443.25h1.5M346.0 450.75h1.5M350.5 464.25h1.5" stroke="#6368fb" stroke-width="1.85" fill="none"/>
<path d="M349.0 380.25h1.5M346.0 381.75h1.5M347.5 383.25h1.5M352.0 384.75h1.5M319.0 386.25h1.5M332.5 386.25h1.5M335.5 386.25h1.5M338.5 386.25h1.5M343.0 386.25h1.5M350.5 386.25h1.5M350.5 387.75h1.5M329.5 389.25h1.5M347.5 389.25h1.5M350.5 389.25h3.0M311.5 390.75h1.5M316.0 390.75h1.5M320.5 390.75h1.5M323.5 390.75h1.5M340.0 390.75h1.5M350.5 390.75h1.5M310.0 392.25h1.5M319.0 392.25h1.5M346.0 392.25h1.5M353.5 392.25h1.5M298.0 395.25h1.5M304.0 395.25h1.5M349.0 395.25h3.0M298.0 396.75h1.5M359.5 396.75h1.5M310.0 398.25h1.5M349.0 398.25h1.5M298.0 399.75h3.0M302.5 399.75h1.5M352.0 399.75h1.5M353.5 401.25h1.5M356.5 401.25h1.5M298.0 402.75h1.5M307.0 402.75h1.5M298.0 404.25h1.5M301.0 404.25h1.5M344.5 404.25h1.5M304.0 407.25h1.5M352.0 407.25h3.0M344.5 408.75h3.0M349.0 408.75h1.5M353.5 408.75h3.0M316.0 410.25h1.5M352.0 410.25h3.0M313.0 411.75h1.5M325.0 411.75h1.5M337.0 411.75h1.5M349.0 411.75h1.5M310.0 413.25h1.5M313.0 413.25h1.5M323.5 413.25h1.5M331.0 413.25h1.5M347.5 414.75h1.5M320.5 416.25h3.0M331.0 416.25h1.5M335.5 416.25h1.5M308.5 417.75h1.5M319.0 417.75h3.0M326.5 417.75h1.5M346.0 417.75h1.5M320.5 419.25h3.0M325.0 419.25h1.5M347.5 419.25h1.5M332.5 420.75h1.5M341.5 420.75h3.0M350.5 420.75h1.5M320.5 422.25h1.5M335.5 422.25h1.5M338.5 422.25h1.5M329.5 423.75h3.0M340.0 423.75h3.0M320.5 425.25h1.5M329.5 425.25h1.5M332.5 425.25h1.5M340.0 425.25h1.5M343.0 425.25h1.5M340.0 426.75h1.5M346.0 426.75h1.5M344.5 428.25h1.5M341.5 429.75h3.0M337.0 432.75h1.5M343.0 434.25h1.5M356.5 468.75h1.5" stroke="#3d4cfd" stroke-width="1.85" fill="none"/>
<path d="M320.5 378.75h1.5M331.0 380.25h1.5M338.5 383.25h1.5M341.5 384.75h1.5M328.0 386.25h1.5M320.5 387.75h1.5M341.5 387.75h1.5M331.0 389.25h1.5M338.5 389.25h1.5M343.0 389.25h3.0M349.0 389.25h1.5M346.0 390.75h1.5M353.5 390.75h1.5M311.5 392.25h1.5M316.0 392.25h1.5M320.5 392.25h1.5M313.0 393.75h1.5M310.0 395.25h1.5M313.0 395.25h4.5M352.0 395.25h3.0M307.0 396.75h1.5M347.5 396.75h3.0M299.5 398.25h1.5M302.5 398.25h3.0M346.0 398.25h1.5M353.5 398.25h1.5M356.5 398.25h1.5M346.0 399.75h3.0M353.5 399.75h1.5M299.5 401.25h1.5M302.5 401.25h3.0M295.0 402.75h1.5M299.5 402.75h3.0M341.5 402.75h1.5M299.5 404.25h1.5M302.5 404.25h3.0M343.0 404.25h1.5M308.5 405.75h1.5M311.5 405.75h1.5M314.5 405.75h1.5M347.5 405.75h3.0M302.5 407.25h1.5M335.5 407.25h1.5M340.0 407.25h1.5M310.0 408.75h1.5M307.0 410.25h1.5M313.0 410.25h1.5M346.0 410.25h1.5M310.0 411.75h1.5M319.0 411.75h3.0M323.5 411.75h1.5M328.0 411.75h1.5M346.0 411.75h1.5M350.5 411.75h1.5M299.5 413.25h1.5M316.0 413.25h1.5M319.0 413.25h1.5M322.0 413.25h1.5M337.0 413.25h1.5M340.0 413.25h1.5M343.0 413.25h1.5M352.0 413.25h1.5M317.5 414.75h1.5M326.5 414.75h1.5M329.5 414.75h1.5M350.5 414.75h1.5M326.5 416.25h1.5M329.5 416.25h1.5M340.0 416.25h1.5M344.5 416.25h1.5M349.0 416.25h1.5M305.5 417.75h1.5M331.0 417.75h3.0M337.0 417.75h3.0M349.0 417.75h1.5M310.0 419.25h1.5M332.5 419.25h3.0M337.0 419.25h1.5M340.0 419.25h1.5M344.5 419.25h1.5M335.5 420.75h3.0M340.0 420.75h1.5M352.0 420.75h1.5M341.5 422.25h1.5M355.0 422.25h1.5M334.0 423.75h1.5M347.5 423.75h3.0M346.0 425.25h1.5M338.5 426.75h1.5M335.5 428.25h1.5M350.5 428.25h3.0M341.5 431.25h1.5" stroke="#2157ff" stroke-width="1.85" fill="none"/>
<path d="M344.5 384.75h1.5M347.5 384.75h1.5M329.5 386.25h1.5M328.0 387.75h1.5M334.0 387.75h1.5M337.0 387.75h1.5M346.0 387.75h3.0M325.0 389.25h1.5M334.0 389.25h1.5M346.0 389.25h1.5M319.0 390.75h1.5M322.0 390.75h1.5M329.5 390.75h1.5M332.5 390.75h3.0M341.5 390.75h3.0M355.0 390.75h3.0M322.0 392.25h1.5M331.0 392.25h1.5M335.5 392.25h1.5M341.5 392.25h1.5M347.5 392.25h1.5M352.0 392.25h1.5M314.5 393.75h3.0M320.5 393.75h1.5M326.5 393.75h1.5M335.5 393.75h1.5M343.0 393.75h3.0M349.0 393.75h1.5M302.5 395.25h1.5M337.0 395.25h3.0M346.0 395.25h3.0M302.5 396.75h1.5M310.0 396.75h1.5M319.0 396.75h1.5M313.0 398.25h1.5M307.0 399.75h1.5M314.5 399.75h1.5M341.5 399.75h1.5M298.0 401.25h1.5M343.0 401.25h1.5M349.0 401.25h1.5M302.5 402.75h3.0M349.0 402.75h1.5M358.0 402.75h1.5M346.0 404.25h1.5M307.0 405.75h1.5M310.0 405.75h1.5M344.5 405.75h1.5M346.0 407.25h1.5M349.0 407.25h3.0M338.5 408.75h1.5M343.0 408.75h1.5M328.0 410.25h1.5M341.5 410.25h1.5M344.5 410.25h1.5M347.5 410.25h3.0M308.5 411.75h1.5M311.5 411.75h1.5M314.5 411.75h1.5M338.5 411.75h3.0M343.0 411.75h1.5M353.5 411.75h1.5M328.0 413.25h1.5M334.0 413.25h1.5M344.5 413.25h1.5M355.0 413.25h1.5M316.0 414.75h1.5M331.0 414.75h1.5M337.0 414.75h1.5M344.5 414.75h1.5M337.0 416.25h1.5M341.5 416.25h1.5M329.5 417.75h1.5M335.5 417.75h1.5M340.0 417.75h1.5M344.5 417.75h1.5M329.5 419.25h1.5M346.0 419.25h1.5M329.5 422.25h1.5M332.5 422.25h3.0M337.0 422.25h1.5M340.0 422.25h1.5M347.5 422.25h1.5M337.0 423.75h1.5M346.0 423.75h1.5M338.5 425.25h1.5M346.0 429.75h1.5" stroke="#0d7cff" stroke-width="1.85" fill="none"/>
<path d="M331.0 386.25h1.5M346.0 386.25h1.5M332.5 387.75h1.5M335.5 387.75h1.5M338.5 387.75h1.5M343.0 387.75h1.5M337.0 389.25h1.5M341.5 389.25h1.5M353.5 389.25h1.5M314.5 390.75h1.5M325.0 390.75h1.5M328.0 390.75h1.5M331.0 390.75h1.5M335.5 390.75h1.5M338.5 390.75h1.5M344.5 390.75h1.5M349.0 390.75h1.5M314.5 392.25h1.5M338.5 392.25h1.5M350.5 392.25h1.5M308.5 393.75h1.5M317.5 393.75h1.5M325.0 393.75h1.5M328.0 393.75h1.5M337.0 393.75h1.5M340.0 393.75h3.0M347.5 393.75h1.5M305.5 395.25h1.5M308.5 395.25h1.5M335.5 395.25h1.5M305.5 396.75h1.5M311.5 396.75h1.5M337.0 396.75h1.5M314.5 398.25h1.5M341.5 398.25h1.5M355.0 398.25h1.5M296.5 399.75h1.5M343.0 399.75h1.5M349.0 399.75h1.5M301.0 401.25h1.5M305.5 401.25h1.5M308.5 401.25h1.5M311.5 401.25h1.5M340.0 401.25h1.5M347.5 401.25h1.5M352.0 401.25h1.5M305.5 402.75h1.5M308.5 402.75h3.0M314.5 402.75h1.5M350.5 402.75h1.5M305.5 404.25h1.5M347.5 404.25h1.5M302.5 405.75h1.5M313.0 405.75h1.5M341.5 405.75h3.0M350.5 405.75h1.5M307.0 407.25h4.5M314.5 407.25h3.0M319.0 407.25h1.5M337.0 407.25h1.5M344.5 407.25h1.5M347.5 407.25h1.5M311.5 408.75h1.5M316.0 408.75h1.5M340.0 408.75h1.5M319.0 410.25h3.0M323.5 410.25h1.5M334.0 410.25h1.5M317.5 411.75h1.5M329.5 411.75h1.5M341.5 411.75h1.5M344.5 411.75h1.5M320.5 413.25h1.5M326.5 413.25h1.5M329.5 413.25h1.5M335.5 413.25h1.5M341.5 413.25h1.5M346.0 413.25h1.5M320.5 414.75h3.0M325.0 414.75h1.5M332.5 414.75h3.0M340.0 414.75h4.5M323.5 416.25h1.5M334.0 416.25h1.5M343.0 416.25h1.5M328.0 417.75h1.5M331.0 420.75h1.5M334.0 420.75h1.5M338.5 420.75h1.5M343.0 422.25h3.0M335.5 425.25h3.0M337.0 428.25h1.5M346.0 428.25h1.5" stroke="#009ff2" stroke-width="1.85" fill="none"/>
<path d="M323.5 389.25h1.5M317.5 392.25h1.5M326.5 392.25h3.0M340.0 392.25h1.5M343.0 392.25h3.0M322.0 393.75h3.0M338.5 393.75h1.5M352.0 393.75h1.5M317.5 395.25h1.5M329.5 395.25h1.5M341.5 395.25h1.5M344.5 395.25h1.5M301.0 396.75h1.5M304.0 396.75h1.5M314.5 396.75h1.5M317.5 396.75h1.5M338.5 396.75h1.5M353.5 396.75h1.5M347.5 398.25h1.5M352.0 398.25h1.5M305.5 399.75h1.5M308.5 399.75h1.5M344.5 399.75h1.5M310.0 401.25h1.5M313.0 401.25h3.0M344.5 401.25h3.0M350.5 401.25h1.5M311.5 402.75h1.5M338.5 402.75h1.5M308.5 404.25h1.5M313.0 404.25h3.0M317.5 404.25h1.5M334.0 404.25h1.5M338.5 404.25h1.5M304.0 405.75h3.0M340.0 405.75h1.5M311.5 407.25h1.5M341.5 407.25h3.0M313.0 408.75h1.5M319.0 408.75h1.5M322.0 408.75h3.0M326.5 408.75h1.5M331.0 408.75h1.5M335.5 408.75h1.5M331.0 411.75h6.0M347.5 413.25h1.5M338.5 414.75h1.5M338.5 416.25h1.5M343.0 417.75h1.5M341.5 419.25h1.5M344.5 420.75h1.5M347.5 420.75h1.5M338.5 423.75h1.5M344.5 423.75h1.5" stroke="#00bbcf" stroke-width="1.85" fill="none"/>
<path d="M337.0 390.75h1.5M323.5 392.25h1.5M334.0 393.75h1.5M346.0 393.75h1.5M326.5 395.25h1.5M334.0 395.25h1.5M340.0 395.25h1.5M313.0 396.75h1.5M316.0 396.75h1.5M320.5 396.75h1.5M328.0 396.75h1.5M340.0 396.75h4.5M350.5 396.75h1.5M305.5 398.25h1.5M308.5 398.25h1.5M316.0 398.25h6.0M332.5 398.25h1.5M343.0 398.25h1.5M301.0 399.75h1.5M304.0 399.75h1.5M310.0 399.75h3.0M316.0 399.75h1.5M320.5 399.75h1.5M337.0 399.75h4.5M350.5 399.75h1.5M307.0 401.25h1.5M335.5 401.25h1.5M341.5 401.25h1.5M325.0 402.75h1.5M344.5 402.75h3.0M316.0 404.25h1.5M335.5 404.25h1.5M319.0 405.75h1.5M328.0 405.75h1.5M346.0 405.75h1.5M305.5 407.25h1.5M322.0 407.25h1.5M325.0 407.25h1.5M328.0 407.25h1.5M331.0 407.25h1.5M314.5 408.75h1.5M317.5 408.75h1.5M325.0 408.75h1.5M310.0 410.25h1.5M322.0 410.25h1.5M326.5 410.25h1.5M329.5 410.25h3.0M335.5 410.25h3.0M343.0 410.25h1.5M338.5 413.25h1.5M346.0 414.75h1.5M335.5 419.25h1.5M338.5 419.25h1.5M343.0 419.25h1.5M332.5 423.75h1.5" stroke="#0cd09e" stroke-width="1.85" fill="none"/>
<path d="M340.0 387.75h1.5M329.5 392.25h1.5M329.5 393.75h1.5M332.5 393.75h1.5M328.0 395.25h1.5M331.0 395.25h3.0M335.5 396.75h1.5M346.0 396.75h1.5M322.0 398.25h1.5M326.5 398.25h1.5M317.5 399.75h1.5M316.0 402.75h1.5M320.5 402.75h1.5M347.5 402.75h1.5M341.5 404.25h1.5M316.0 405.75h1.5M329.5 405.75h1.5M317.5 407.25h1.5M320.5 407.25h1.5M329.5 407.25h1.5M338.5 407.25h1.5M320.5 408.75h1.5M328.0 408.75h3.0M332.5 408.75h3.0M328.0 416.25h1.5" stroke="#2dd85a" stroke-width="1.85" fill="none"/>
<path d="M325.0 395.25h1.5M323.5 396.75h1.5M334.0 396.75h1.5M334.0 398.25h3.0M322.0 399.75h1.5M313.0 402.75h1.5M317.5 402.75h1.5M334.0 402.75h3.0M340.0 402.75h1.5M343.0 402.75h1.5M311.5 404.25h1.5M319.0 404.25h1.5M320.5 405.75h3.0M334.0 407.25h1.5M325.0 410.25h1.5M332.5 410.25h1.5M340.0 410.25h1.5M326.5 411.75h1.5" stroke="#64de2a" stroke-width="1.85" fill="none"/>
<path d="M322.0 396.75h1.5M326.5 396.75h1.5M332.5 396.75h1.5M319.0 399.75h1.5M335.5 399.75h1.5M316.0 401.25h1.5M319.0 401.25h3.0M328.0 401.25h1.5M331.0 401.25h1.5M337.0 401.25h3.0M320.5 404.25h3.0M337.0 404.25h1.5M325.0 405.75h1.5M332.5 405.75h6.0M323.5 407.25h1.5" stroke="#abe30c" stroke-width="1.85" fill="none"/>
<path d="M329.5 396.75h3.0M325.0 398.25h1.5M328.0 399.75h1.5M332.5 399.75h3.0M322.0 401.25h1.5M325.0 401.25h1.5M319.0 402.75h1.5M323.5 402.75h1.5M331.0 402.75h1.5M323.5 404.25h1.5M331.0 404.25h1.5M331.0 405.75h1.5M326.5 407.25h1.5" stroke="#e5c000" stroke-width="1.85" fill="none"/>
<path d="M323.5 398.25h1.5M328.0 398.25h3.0M323.5 399.75h4.5M329.5 399.75h3.0M323.5 401.25h1.5M326.5 401.25h1.5M329.5 401.25h1.5M332.5 401.25h1.5M322.0 402.75h1.5M326.5 402.75h4.5M332.5 402.75h1.5M325.0 404.25h1.5M328.0 404.25h3.0M323.5 405.75h1.5M332.5 407.25h1.5" stroke="#f26500" stroke-width="1.85" fill="none"/>
<rect x="286.40" y="348.50" width="89.60" height="84.50" fill="none" stroke="#333" stroke-width="1.3" />
<rect x="286.40" y="443.70" width="89.60" height="85.00" fill="none" stroke="#333" stroke-width="1.3" />
<text x="369.00" y="358.30" font-size="10" text-anchor="end" font-weight="normal" fill="#3a3a3a" >90.4%</text>
<text x="369.00" y="522.50" font-size="10" text-anchor="end" font-weight="normal" fill="#3a3a3a" >9.6%</text>
<line x1="203.00" y1="331.00" x2="203.00" y2="537.50" stroke="#333" stroke-width="1.2" />
<line x1="202.50" y1="537.00" x2="400.50" y2="537.00" stroke="#333" stroke-width="1.2" />
<line x1="198.00" y1="349.80" x2="203.00" y2="349.80" stroke="#444" stroke-width="1" />
<text x="189.7" y="353.9" font-size="8.8" text-anchor="end" fill="#5a5a5a">10</text><text x="190.0" y="350.4" font-size="6.5" fill="#5a5a5a">5</text>
<line x1="198.00" y1="395.40" x2="203.00" y2="395.40" stroke="#444" stroke-width="1" />
<text x="189.7" y="399.5" font-size="8.8" text-anchor="end" fill="#5a5a5a">10</text><text x="190.0" y="396.0" font-size="6.5" fill="#5a5a5a">4</text>
<line x1="198.00" y1="443.20" x2="203.00" y2="443.20" stroke="#444" stroke-width="1" />
<text x="189.7" y="447.3" font-size="8.8" text-anchor="end" fill="#5a5a5a">10</text><text x="190.0" y="443.8" font-size="6.5" fill="#5a5a5a">3</text>
<line x1="198.00" y1="492.60" x2="203.00" y2="492.60" stroke="#444" stroke-width="1" />
<text x="189.7" y="496.7" font-size="8.8" text-anchor="end" fill="#5a5a5a">10</text><text x="190.0" y="493.2" font-size="6.5" fill="#5a5a5a">2</text>
<line x1="201.20" y1="381.67" x2="203.00" y2="381.67" stroke="#666" stroke-width="0.9" />
<line x1="201.20" y1="373.64" x2="203.00" y2="373.64" stroke="#666" stroke-width="0.9" />
<line x1="201.20" y1="367.95" x2="203.00" y2="367.95" stroke="#666" stroke-width="0.9" />
<line x1="201.20" y1="363.53" x2="203.00" y2="363.53" stroke="#666" stroke-width="0.9" />
<line x1="201.20" y1="359.92" x2="203.00" y2="359.92" stroke="#666" stroke-width="0.9" />
<line x1="201.20" y1="356.86" x2="203.00" y2="356.86" stroke="#666" stroke-width="0.9" />
<line x1="201.20" y1="354.22" x2="203.00" y2="354.22" stroke="#666" stroke-width="0.9" />
<line x1="201.20" y1="351.89" x2="203.00" y2="351.89" stroke="#666" stroke-width="0.9" />
<line x1="201.20" y1="428.81" x2="203.00" y2="428.81" stroke="#666" stroke-width="0.9" />
<line x1="201.20" y1="420.39" x2="203.00" y2="420.39" stroke="#666" stroke-width="0.9" />
<line x1="201.20" y1="414.42" x2="203.00" y2="414.42" stroke="#666" stroke-width="0.9" />
<line x1="201.20" y1="409.79" x2="203.00" y2="409.79" stroke="#666" stroke-width="0.9" />
<line x1="201.20" y1="406.00" x2="203.00" y2="406.00" stroke="#666" stroke-width="0.9" />
<line x1="201.20" y1="402.80" x2="203.00" y2="402.80" stroke="#666" stroke-width="0.9" />
<line x1="201.20" y1="400.03" x2="203.00" y2="400.03" stroke="#666" stroke-width="0.9" />
<line x1="201.20" y1="397.59" x2="203.00" y2="397.59" stroke="#666" stroke-width="0.9" />
<line x1="201.20" y1="477.73" x2="203.00" y2="477.73" stroke="#666" stroke-width="0.9" />
<line x1="201.20" y1="469.03" x2="203.00" y2="469.03" stroke="#666" stroke-width="0.9" />
<line x1="201.20" y1="462.86" x2="203.00" y2="462.86" stroke="#666" stroke-width="0.9" />
<line x1="201.20" y1="458.07" x2="203.00" y2="458.07" stroke="#666" stroke-width="0.9" />
<line x1="201.20" y1="454.16" x2="203.00" y2="454.16" stroke="#666" stroke-width="0.9" />
<line x1="201.20" y1="450.85" x2="203.00" y2="450.85" stroke="#666" stroke-width="0.9" />
<line x1="201.20" y1="447.99" x2="203.00" y2="447.99" stroke="#666" stroke-width="0.9" />
<line x1="201.20" y1="445.46" x2="203.00" y2="445.46" stroke="#666" stroke-width="0.9" />
<rect x="199.00" y="514.30" width="4.00" height="2.40" fill="#111" stroke="none" stroke-width="1" />
<text x="192.30" y="518.70" font-size="9" text-anchor="middle" font-weight="normal" fill="#5a5a5a" >0</text>
<line x1="201.20" y1="504.05" x2="203.00" y2="504.05" stroke="#666" stroke-width="0.9" />
<line x1="201.20" y1="522.50" x2="203.00" y2="522.50" stroke="#666" stroke-width="0.9" />
<line x1="201.20" y1="529.50" x2="203.00" y2="529.50" stroke="#666" stroke-width="0.9" />
<line x1="243.00" y1="537.00" x2="243.00" y2="541.00" stroke="#444" stroke-width="1" />
<text x="242.0" y="556.4" font-size="8.8" text-anchor="middle" fill="#5a5a5a">10</text><text x="247.1" y="552.6" font-size="6.5" fill="#5a5a5a">2</text>
<line x1="292.50" y1="537.00" x2="292.50" y2="541.00" stroke="#444" stroke-width="1" />
<text x="291.5" y="556.4" font-size="8.8" text-anchor="middle" fill="#5a5a5a">10</text><text x="296.6" y="552.6" font-size="6.5" fill="#5a5a5a">3</text>
<line x1="337.50" y1="537.00" x2="337.50" y2="541.00" stroke="#444" stroke-width="1" />
<text x="336.5" y="556.4" font-size="8.8" text-anchor="middle" fill="#5a5a5a">10</text><text x="341.6" y="552.6" font-size="6.5" fill="#5a5a5a">4</text>
<line x1="382.50" y1="537.00" x2="382.50" y2="541.00" stroke="#444" stroke-width="1" />
<text x="381.5" y="556.4" font-size="8.8" text-anchor="middle" fill="#5a5a5a">10</text><text x="386.6" y="552.6" font-size="6.5" fill="#5a5a5a">5</text>
<line x1="257.90" y1="537.00" x2="257.90" y2="538.80" stroke="#666" stroke-width="0.9" />
<line x1="266.62" y1="537.00" x2="266.62" y2="538.80" stroke="#666" stroke-width="0.9" />
<line x1="272.80" y1="537.00" x2="272.80" y2="538.80" stroke="#666" stroke-width="0.9" />
<line x1="277.60" y1="537.00" x2="277.60" y2="538.80" stroke="#666" stroke-width="0.9" />
<line x1="281.52" y1="537.00" x2="281.52" y2="538.80" stroke="#666" stroke-width="0.9" />
<line x1="284.83" y1="537.00" x2="284.83" y2="538.80" stroke="#666" stroke-width="0.9" />
<line x1="287.70" y1="537.00" x2="287.70" y2="538.80" stroke="#666" stroke-width="0.9" />
<line x1="290.24" y1="537.00" x2="290.24" y2="538.80" stroke="#666" stroke-width="0.9" />
<line x1="306.05" y1="537.00" x2="306.05" y2="538.80" stroke="#666" stroke-width="0.9" />
<line x1="313.97" y1="537.00" x2="313.97" y2="538.80" stroke="#666" stroke-width="0.9" />
<line x1="319.59" y1="537.00" x2="319.59" y2="538.80" stroke="#666" stroke-width="0.9" />
<line x1="323.95" y1="537.00" x2="323.95" y2="538.80" stroke="#666" stroke-width="0.9" />
<line x1="327.52" y1="537.00" x2="327.52" y2="538.80" stroke="#666" stroke-width="0.9" />
<line x1="330.53" y1="537.00" x2="330.53" y2="538.80" stroke="#666" stroke-width="0.9" />
<line x1="333.14" y1="537.00" x2="333.14" y2="538.80" stroke="#666" stroke-width="0.9" />
<line x1="335.44" y1="537.00" x2="335.44" y2="538.80" stroke="#666" stroke-width="0.9" />
<line x1="351.05" y1="537.00" x2="351.05" y2="538.80" stroke="#666" stroke-width="0.9" />
<line x1="358.97" y1="537.00" x2="358.97" y2="538.80" stroke="#666" stroke-width="0.9" />
<line x1="364.59" y1="537.00" x2="364.59" y2="538.80" stroke="#666" stroke-width="0.9" />
<line x1="368.95" y1="537.00" x2="368.95" y2="538.80" stroke="#666" stroke-width="0.9" />
<line x1="372.52" y1="537.00" x2="372.52" y2="538.80" stroke="#666" stroke-width="0.9" />
<line x1="375.53" y1="537.00" x2="375.53" y2="538.80" stroke="#666" stroke-width="0.9" />
<line x1="378.14" y1="537.00" x2="378.14" y2="538.80" stroke="#666" stroke-width="0.9" />
<line x1="380.44" y1="537.00" x2="380.44" y2="538.80" stroke="#666" stroke-width="0.9" />
<rect x="223.00" y="537.00" width="2.40" height="4.00" fill="#111" stroke="none" stroke-width="1" />
<text x="224.20" y="556.40" font-size="9" text-anchor="middle" font-weight="normal" fill="#5a5a5a" >0</text>
<line x1="210.20" y1="537.00" x2="210.20" y2="538.80" stroke="#666" stroke-width="0.9" />
<line x1="217.20" y1="537.00" x2="217.20" y2="538.80" stroke="#666" stroke-width="0.9" />
<line x1="231.20" y1="537.00" x2="231.20" y2="538.80" stroke="#666" stroke-width="0.9" />
<text x="209.00" y="346.30" font-size="12.4" text-anchor="start" font-weight="bold" fill="#000" >3 months</text>
<text x="271.50" y="571.30" font-size="12.3" text-anchor="start" font-weight="bold" fill="#000" >CD34 APC</text>
<text transform="translate(171.2,433.4) rotate(-90)" font-size="12.6" font-weight="bold" text-anchor="middle">CD38 FITC</text>
<rect x="36.00" y="648.50" width="474.50" height="190.50" fill="#fff" stroke="none" stroke-width="1" />
<rect x="35.00" y="853.50" width="475.50" height="190.00" fill="#fff" stroke="none" stroke-width="1" />
<rect x="36.30" y="1058.20" width="474.00" height="190.80" fill="#fff" stroke="none" stroke-width="1" />
<text x="10.00" y="662.80" font-size="19" text-anchor="start" font-weight="bold" fill="#000" >B</text>
<text x="9.50" y="867.00" font-size="19" text-anchor="start" font-weight="bold" fill="#000" >C</text>
<text x="10.00" y="1074.00" font-size="19" text-anchor="start" font-weight="bold" fill="#000" >D</text>
<line x1="103.80" y1="683.50" x2="103.80" y2="807.30" stroke="#000" stroke-width="2.2" />
<line x1="103.80" y1="683.50" x2="100.30" y2="683.50" stroke="#000" stroke-width="1.2" />
<line x1="103.80" y1="700.69" x2="101.80" y2="700.69" stroke="#000" stroke-width="0.8" />
<line x1="103.80" y1="696.36" x2="101.80" y2="696.36" stroke="#000" stroke-width="0.8" />
<line x1="103.80" y1="693.29" x2="101.80" y2="693.29" stroke="#000" stroke-width="0.8" />
<line x1="103.80" y1="690.91" x2="101.80" y2="690.91" stroke="#000" stroke-width="0.8" />
<line x1="103.80" y1="688.96" x2="101.80" y2="688.96" stroke="#000" stroke-width="0.8" />
<line x1="103.80" y1="687.31" x2="101.80" y2="687.31" stroke="#000" stroke-width="0.8" />
<line x1="103.80" y1="685.88" x2="101.80" y2="685.88" stroke="#000" stroke-width="0.8" />
<line x1="103.80" y1="684.63" x2="101.80" y2="684.63" stroke="#000" stroke-width="0.8" />
<line x1="103.80" y1="708.10" x2="100.30" y2="708.10" stroke="#000" stroke-width="1.2" />
<line x1="103.80" y1="725.29" x2="101.80" y2="725.29" stroke="#000" stroke-width="0.8" />
<line x1="103.80" y1="720.96" x2="101.80" y2="720.96" stroke="#000" stroke-width="0.8" />
<line x1="103.80" y1="717.89" x2="101.80" y2="717.89" stroke="#000" stroke-width="0.8" />
<line x1="103.80" y1="715.51" x2="101.80" y2="715.51" stroke="#000" stroke-width="0.8" />
<line x1="103.80" y1="713.56" x2="101.80" y2="713.56" stroke="#000" stroke-width="0.8" />
<line x1="103.80" y1="711.91" x2="101.80" y2="711.91" stroke="#000" stroke-width="0.8" />
<line x1="103.80" y1="710.48" x2="101.80" y2="710.48" stroke="#000" stroke-width="0.8" />
<line x1="103.80" y1="709.23" x2="101.80" y2="709.23" stroke="#000" stroke-width="0.8" />
<line x1="103.80" y1="732.70" x2="100.30" y2="732.70" stroke="#000" stroke-width="1.2" />
<line x1="103.80" y1="749.89" x2="101.80" y2="749.89" stroke="#000" stroke-width="0.8" />
<line x1="103.80" y1="745.56" x2="101.80" y2="745.56" stroke="#000" stroke-width="0.8" />
<line x1="103.80" y1="742.49" x2="101.80" y2="742.49" stroke="#000" stroke-width="0.8" />
<line x1="103.80" y1="740.11" x2="101.80" y2="740.11" stroke="#000" stroke-width="0.8" />
<line x1="103.80" y1="738.16" x2="101.80" y2="738.16" stroke="#000" stroke-width="0.8" />
<line x1="103.80" y1="736.51" x2="101.80" y2="736.51" stroke="#000" stroke-width="0.8" />
<line x1="103.80" y1="735.08" x2="101.80" y2="735.08" stroke="#000" stroke-width="0.8" />
<line x1="103.80" y1="733.83" x2="101.80" y2="733.83" stroke="#000" stroke-width="0.8" />
<line x1="103.80" y1="757.30" x2="100.30" y2="757.30" stroke="#000" stroke-width="1.2" />
<line x1="103.80" y1="774.49" x2="101.80" y2="774.49" stroke="#000" stroke-width="0.8" />
<line x1="103.80" y1="770.16" x2="101.80" y2="770.16" stroke="#000" stroke-width="0.8" />
<line x1="103.80" y1="767.09" x2="101.80" y2="767.09" stroke="#000" stroke-width="0.8" />
<line x1="103.80" y1="764.71" x2="101.80" y2="764.71" stroke="#000" stroke-width="0.8" />
<line x1="103.80" y1="762.76" x2="101.80" y2="762.76" stroke="#000" stroke-width="0.8" />
<line x1="103.80" y1="761.11" x2="101.80" y2="761.11" stroke="#000" stroke-width="0.8" />
<line x1="103.80" y1="759.68" x2="101.80" y2="759.68" stroke="#000" stroke-width="0.8" />
<line x1="103.80" y1="758.43" x2="101.80" y2="758.43" stroke="#000" stroke-width="0.8" />
<line x1="103.80" y1="781.90" x2="100.30" y2="781.90" stroke="#000" stroke-width="1.2" />
<line x1="103.80" y1="799.09" x2="101.80" y2="799.09" stroke="#000" stroke-width="0.8" />
<line x1="103.80" y1="794.76" x2="101.80" y2="794.76" stroke="#000" stroke-width="0.8" />
<line x1="103.80" y1="791.69" x2="101.80" y2="791.69" stroke="#000" stroke-width="0.8" />
<line x1="103.80" y1="789.31" x2="101.80" y2="789.31" stroke="#000" stroke-width="0.8" />
<line x1="103.80" y1="787.36" x2="101.80" y2="787.36" stroke="#000" stroke-width="0.8" />
<line x1="103.80" y1="785.71" x2="101.80" y2="785.71" stroke="#000" stroke-width="0.8" />
<line x1="103.80" y1="784.28" x2="101.80" y2="784.28" stroke="#000" stroke-width="0.8" />
<line x1="103.80" y1="783.03" x2="101.80" y2="783.03" stroke="#000" stroke-width="0.8" />
<line x1="103.80" y1="806.50" x2="100.30" y2="806.50" stroke="#000" stroke-width="1.2" />
<text x="99.30" y="686.50" font-size="8.5" text-anchor="end" font-weight="normal" fill="#333" >1</text>
<text x="99.30" y="711.10" font-size="8.5" text-anchor="end" font-weight="normal" fill="#333" >0.1</text>
<text x="99.30" y="735.70" font-size="8.5" text-anchor="end" font-weight="normal" fill="#333" >0.01</text>
<text x="99.30" y="760.30" font-size="8.5" text-anchor="end" font-weight="normal" fill="#333" >0.001</text>
<text x="99.30" y="784.90" font-size="8.5" text-anchor="end" font-weight="normal" fill="#333" >0.0001</text>
<text x="99.30" y="809.50" font-size="8.5" text-anchor="end" font-weight="normal" fill="#333" >0.00001</text>
<line x1="102.70" y1="806.50" x2="460.30" y2="806.50" stroke="#000" stroke-width="1.6" />
<line x1="223.30" y1="683.50" x2="223.30" y2="806.50" stroke="#000" stroke-width="1.6" />
<line x1="340.70" y1="683.50" x2="340.70" y2="806.50" stroke="#000" stroke-width="1.6" />
<line x1="459.60" y1="683.50" x2="459.60" y2="807.30" stroke="#000" stroke-width="1.6" />
<line x1="459.60" y1="683.50" x2="463.00" y2="683.50" stroke="#000" stroke-width="1.2" />
<text x="463.60" y="686.50" font-size="8.5" text-anchor="start" font-weight="normal" fill="#333" >1.0</text>
<line x1="459.60" y1="708.10" x2="463.00" y2="708.10" stroke="#000" stroke-width="1.2" />
<text x="463.60" y="711.10" font-size="8.5" text-anchor="start" font-weight="normal" fill="#333" >0.8</text>
<line x1="459.60" y1="732.70" x2="463.00" y2="732.70" stroke="#000" stroke-width="1.2" />
<text x="463.60" y="735.70" font-size="8.5" text-anchor="start" font-weight="normal" fill="#333" >0.6</text>
<line x1="459.60" y1="757.30" x2="463.00" y2="757.30" stroke="#000" stroke-width="1.2" />
<text x="463.60" y="760.30" font-size="8.5" text-anchor="start" font-weight="normal" fill="#333" >0.4</text>
<line x1="459.60" y1="781.90" x2="463.00" y2="781.90" stroke="#000" stroke-width="1.2" />
<text x="463.60" y="784.90" font-size="8.5" text-anchor="start" font-weight="normal" fill="#333" >0.2</text>
<line x1="459.60" y1="806.50" x2="463.00" y2="806.50" stroke="#000" stroke-width="1.2" />
<text x="463.60" y="809.50" font-size="8.5" text-anchor="start" font-weight="normal" fill="#333" >0.0</text>
<text x="165.20" y="679.30" font-size="11.1" text-anchor="middle" font-weight="normal" fill="#111" >Whole BM</text>
<text x="282.00" y="679.80" font-size="11.1" text-anchor="middle" font-weight="normal" fill="#111" >CD34+CD38+</text>
<text x="401.70" y="677.60" font-size="11.1" text-anchor="middle" font-weight="normal" fill="#111" >CD34+CD38-</text>
<rect x="129.80" y="736.30" width="8.90" height="70.20" fill="#fff" stroke="#000" stroke-width="1.2" />
<rect x="247.50" y="710.60" width="10.70" height="95.90" fill="#fff" stroke="#000" stroke-width="1.2" />
<rect x="306.70" y="800.50" width="9.70" height="6.00" fill="#fff" stroke="#000" stroke-width="1.2" />
<rect x="365.50" y="715.40" width="10.30" height="91.10" fill="#fff" stroke="#000" stroke-width="1.2" />
<rect x="424.30" y="773.20" width="10.40" height="33.30" fill="#fff" stroke="#000" stroke-width="1.2" />
<line x1="256.80" y1="716.00" x2="310.50" y2="800.50" stroke="#333" stroke-width="0.8" stroke-dasharray="1.6,1.4"/>
<line x1="374.50" y1="716.50" x2="425.50" y2="773.00" stroke="#333" stroke-width="0.8" stroke-dasharray="1.6,1.4"/>
<line x1="134.00" y1="695.80" x2="193.60" y2="759.80" stroke="#222" stroke-width="1.4" />
<path d="M130.80,693.08 L137.20,693.08 L134.00,698.52 Z" fill="#000"/>
<path d="M190.40,757.08 L196.80,757.08 L193.60,762.52 Z" fill="#000"/>
<line x1="253.00" y1="700.60" x2="311.80" y2="738.80" stroke="#222" stroke-width="1.4" />
<path d="M249.80,697.88 L256.20,697.88 L253.00,703.32 Z" fill="#000"/>
<path d="M308.60,736.08 L315.00,736.08 L311.80,741.52 Z" fill="#000"/>
<line x1="369.60" y1="693.60" x2="429.00" y2="705.00" stroke="#222" stroke-width="1.4" />
<path d="M366.40,690.88 L372.80,690.88 L369.60,696.32 Z" fill="#000"/>
<path d="M425.80,702.28 L432.20,702.28 L429.00,707.72 Z" fill="#000"/>
<text x="134.00" y="818.60" font-size="8.4" text-anchor="middle" font-weight="normal" fill="#222" >Diagnosis</text>
<text x="192.70" y="818.60" font-size="8.4" text-anchor="middle" font-weight="normal" fill="#222" >3 months</text>
<text x="252.50" y="818.60" font-size="8.4" text-anchor="middle" font-weight="normal" fill="#222" >Diagnosis</text>
<text x="311.50" y="818.60" font-size="8.4" text-anchor="middle" font-weight="normal" fill="#222" >3 months</text>
<text x="367.80" y="818.60" font-size="8.4" text-anchor="middle" font-weight="normal" fill="#222" >Diagnosis</text>
<text x="429.00" y="818.60" font-size="8.4" text-anchor="middle" font-weight="normal" fill="#222" >3 months</text>
<text transform="translate(62.6,743.8) rotate(-90)" font-size="10.3" font-weight="bold" text-anchor="middle" fill="#1a1a1a">BCR-ABL expression <tspan font-weight="normal" fill="#333">(K562eq)</tspan></text>
<text transform="translate(485.2,743) rotate(90)" font-size="9.6" font-weight="bold" text-anchor="middle">Ph+ cells</text>
<defs><pattern id="hatch" patternUnits="userSpaceOnUse" width="3.9" height="3.9" patternTransform="rotate(-45)"><rect width="3.9" height="3.9" fill="#fff"/><rect width="1.9" height="3.9" fill="#000"/></pattern><pattern id="hatchL" patternUnits="userSpaceOnUse" width="3.6" height="3.6" patternTransform="rotate(-45)"><rect width="3.6" height="3.6" fill="#fff"/><rect width="1.8" height="3.6" fill="#000"/></pattern></defs>
<line x1="87.60" y1="876.90" x2="87.60" y2="1016.90" stroke="#000" stroke-width="2" />
<line x1="86.90" y1="1016.30" x2="371.00" y2="1016.30" stroke="#000" stroke-width="1.6" />
<line x1="83.60" y1="1016.30" x2="87.60" y2="1016.30" stroke="#000" stroke-width="1.7" />
<text x="83.20" y="1019.50" font-size="9.2" text-anchor="end" font-weight="normal" fill="#333" >0</text>
<line x1="83.60" y1="993.17" x2="87.60" y2="993.17" stroke="#000" stroke-width="1.7" />
<text x="83.20" y="996.37" font-size="9.2" text-anchor="end" font-weight="normal" fill="#333" >20</text>
<line x1="83.60" y1="970.03" x2="87.60" y2="970.03" stroke="#000" stroke-width="1.7" />
<text x="83.20" y="973.23" font-size="9.2" text-anchor="end" font-weight="normal" fill="#333" >40</text>
<line x1="83.60" y1="946.90" x2="87.60" y2="946.90" stroke="#000" stroke-width="1.7" />
<text x="83.20" y="950.10" font-size="9.2" text-anchor="end" font-weight="normal" fill="#333" >60</text>
<line x1="83.60" y1="923.77" x2="87.60" y2="923.77" stroke="#000" stroke-width="1.7" />
<text x="83.20" y="926.97" font-size="9.2" text-anchor="end" font-weight="normal" fill="#333" >80</text>
<line x1="83.60" y1="900.63" x2="87.60" y2="900.63" stroke="#000" stroke-width="1.7" />
<text x="83.20" y="903.83" font-size="9.2" text-anchor="end" font-weight="normal" fill="#333" >100</text>
<line x1="83.60" y1="877.50" x2="87.60" y2="877.50" stroke="#000" stroke-width="1.7" />
<text x="83.20" y="880.70" font-size="9.2" text-anchor="end" font-weight="normal" fill="#333" >120</text>
<text transform="translate(59,946) rotate(-90)" font-size="10.2" font-weight="bold" text-anchor="middle" fill="#111">Colonies (n)</text>
<rect x="97.00" y="1014.64" width="19.00" height="1.66" fill="#000" stroke="none" stroke-width="1" />
<rect x="117.00" y="907.57" width="18.50" height="108.73" fill="url(#hatch)" stroke="#000" stroke-width="1.6" />
<rect x="136.20" y="1011.67" width="18.30" height="4.63" fill="#a3a3a3" stroke="#000" stroke-width="1.6" />
<rect x="155.80" y="900.63" width="18.00" height="115.67" fill="#fff" stroke="#8a8a8a" stroke-width="1.1" />
<rect x="210.80" y="970.03" width="18.70" height="46.27" fill="url(#hatch)" stroke="#000" stroke-width="1.6" />
<rect x="230.30" y="960.78" width="18.20" height="55.52" fill="#a3a3a3" stroke="#000" stroke-width="1.6" />
<rect x="249.60" y="913.36" width="18.20" height="102.94" fill="#fff" stroke="#8a8a8a" stroke-width="1.1" />
<rect x="285.70" y="1014.64" width="18.30" height="1.66" fill="#000" stroke="none" stroke-width="1" />
<rect x="305.80" y="989.70" width="18.10" height="26.60" fill="url(#hatch)" stroke="#000" stroke-width="1.6" />
<rect x="325.80" y="989.70" width="17.80" height="26.60" fill="#a3a3a3" stroke="#000" stroke-width="1.6" />
<rect x="344.40" y="960.78" width="18.10" height="55.52" fill="#fff" stroke="#8a8a8a" stroke-width="1.1" />
<line x1="104.00" y1="1005.30" x2="111.00" y2="1005.30" stroke="#000" stroke-width="2" />
<line x1="107.50" y1="1001.80" x2="107.50" y2="1008.80" stroke="#000" stroke-width="2" />
<line x1="123.10" y1="898.80" x2="130.10" y2="898.80" stroke="#000" stroke-width="2" />
<line x1="126.60" y1="895.30" x2="126.60" y2="902.30" stroke="#000" stroke-width="2" />
<line x1="141.90" y1="1002.80" x2="148.90" y2="1002.80" stroke="#000" stroke-width="2" />
<line x1="145.40" y1="999.30" x2="145.40" y2="1006.30" stroke="#000" stroke-width="2" />
<line x1="161.50" y1="891.50" x2="168.50" y2="891.50" stroke="#000" stroke-width="2" />
<line x1="165.00" y1="888.00" x2="165.00" y2="895.00" stroke="#000" stroke-width="2" />
<line x1="218.70" y1="962.30" x2="223.30" y2="962.30" stroke="#000" stroke-width="2.4" />
<line x1="238.10" y1="949.50" x2="242.70" y2="949.50" stroke="#000" stroke-width="2.4" />
<line x1="256.40" y1="905.30" x2="261.00" y2="905.30" stroke="#000" stroke-width="2.4" />
<text x="296.00" y="1008.90" font-size="8" text-anchor="middle" font-weight="normal" fill="#222" >ND</text>
<text x="315.80" y="984.60" font-size="8" text-anchor="middle" font-weight="normal" fill="#222" >ND</text>
<text x="335.30" y="984.60" font-size="8" text-anchor="middle" font-weight="normal" fill="#222" >ND</text>
<text x="354.40" y="956.10" font-size="8" text-anchor="middle" font-weight="normal" fill="#222" >ND</text>
<text x="135.60" y="1027.40" font-size="10.4" text-anchor="middle" font-weight="normal" fill="#111" >Diagnosis</text>
<text x="229.70" y="1027.40" font-size="10.4" text-anchor="middle" font-weight="normal" fill="#111" >3 months</text>
<text x="323.40" y="1027.40" font-size="10.4" text-anchor="middle" font-weight="normal" fill="#111" >9 months</text>
<rect x="381.50" y="888.50" width="118.50" height="118.50" fill="#fff" stroke="#777" stroke-width="1" />
<rect x="385.10" y="894.10" width="18.90" height="8.50" fill="#000" stroke="none" stroke-width="1" />
<rect x="386.10" y="911.20" width="16.90" height="7.00" fill="url(#hatchL)" stroke="#000" stroke-width="2" />
<rect x="386.10" y="927.40" width="16.90" height="7.00" fill="#a3a3a3" stroke="#000" stroke-width="2" />
<rect x="385.60" y="943.00" width="17.90" height="8.00" fill="#fff" stroke="#999" stroke-width="1" />
<line x1="394.70" y1="963.40" x2="400.70" y2="963.40" stroke="#000" stroke-width="1.8" />
<line x1="397.70" y1="960.40" x2="397.70" y2="966.40" stroke="#000" stroke-width="1.8" />
<line x1="395.40" y1="979.70" x2="399.40" y2="979.70" stroke="#000" stroke-width="2.2" />
<text x="398.60" y="998.40" font-size="7.2" text-anchor="middle" font-weight="normal" fill="#222" >ND</text>
<text x="410.70" y="902.00" font-size="10.2" text-anchor="start" font-weight="normal" fill="#333" >Multi-lineage</text>
<text x="410.70" y="918.40" font-size="10.2" text-anchor="start" font-weight="normal" fill="#333" >Erythroid</text>
<text x="410.70" y="934.60" font-size="10.2" text-anchor="start" font-weight="normal" fill="#333" >Myeloid</text>
<text x="410.70" y="950.70" font-size="10.2" text-anchor="start" font-weight="normal" fill="#333" >Total colonies</text>
<text x="410.70" y="967.10" font-size="10.2" text-anchor="start" font-weight="normal" fill="#333" >BCR-ABL positive</text>
<text x="410.70" y="983.40" font-size="10.2" text-anchor="start" font-weight="normal" fill="#333" >BCR-ABL negative</text>
<text x="410.70" y="999.50" font-size="10.2" text-anchor="start" font-weight="normal" fill="#333" >qPCR not done</text>
<line x1="101.00" y1="1081.00" x2="101.00" y2="1211.00" stroke="#000" stroke-width="2" />
<line x1="101.00" y1="1081.00" x2="97.50" y2="1081.00" stroke="#000" stroke-width="1.2" />
<line x1="101.00" y1="1103.58" x2="99.00" y2="1103.58" stroke="#000" stroke-width="0.8" />
<line x1="101.00" y1="1097.89" x2="99.00" y2="1097.89" stroke="#000" stroke-width="0.8" />
<line x1="101.00" y1="1093.85" x2="99.00" y2="1093.85" stroke="#000" stroke-width="0.8" />
<line x1="101.00" y1="1090.72" x2="99.00" y2="1090.72" stroke="#000" stroke-width="0.8" />
<line x1="101.00" y1="1088.17" x2="99.00" y2="1088.17" stroke="#000" stroke-width="0.8" />
<line x1="101.00" y1="1086.00" x2="99.00" y2="1086.00" stroke="#000" stroke-width="0.8" />
<line x1="101.00" y1="1084.13" x2="99.00" y2="1084.13" stroke="#000" stroke-width="0.8" />
<line x1="101.00" y1="1082.48" x2="99.00" y2="1082.48" stroke="#000" stroke-width="0.8" />
<line x1="101.00" y1="1113.30" x2="97.50" y2="1113.30" stroke="#000" stroke-width="1.2" />
<line x1="101.00" y1="1135.88" x2="99.00" y2="1135.88" stroke="#000" stroke-width="0.8" />
<line x1="101.00" y1="1130.19" x2="99.00" y2="1130.19" stroke="#000" stroke-width="0.8" />
<line x1="101.00" y1="1126.15" x2="99.00" y2="1126.15" stroke="#000" stroke-width="0.8" />
<line x1="101.00" y1="1123.02" x2="99.00" y2="1123.02" stroke="#000" stroke-width="0.8" />
<line x1="101.00" y1="1120.47" x2="99.00" y2="1120.47" stroke="#000" stroke-width="0.8" />
<line x1="101.00" y1="1118.30" x2="99.00" y2="1118.30" stroke="#000" stroke-width="0.8" />
<line x1="101.00" y1="1116.43" x2="99.00" y2="1116.43" stroke="#000" stroke-width="0.8" />
<line x1="101.00" y1="1114.78" x2="99.00" y2="1114.78" stroke="#000" stroke-width="0.8" />
<line x1="101.00" y1="1145.60" x2="97.50" y2="1145.60" stroke="#000" stroke-width="1.2" />
<line x1="101.00" y1="1168.18" x2="99.00" y2="1168.18" stroke="#000" stroke-width="0.8" />
<line x1="101.00" y1="1162.49" x2="99.00" y2="1162.49" stroke="#000" stroke-width="0.8" />
<line x1="101.00" y1="1158.45" x2="99.00" y2="1158.45" stroke="#000" stroke-width="0.8" />
<line x1="101.00" y1="1155.32" x2="99.00" y2="1155.32" stroke="#000" stroke-width="0.8" />
<line x1="101.00" y1="1152.77" x2="99.00" y2="1152.77" stroke="#000" stroke-width="0.8" />
<line x1="101.00" y1="1150.60" x2="99.00" y2="1150.60" stroke="#000" stroke-width="0.8" />
<line x1="101.00" y1="1148.73" x2="99.00" y2="1148.73" stroke="#000" stroke-width="0.8" />
<line x1="101.00" y1="1147.08" x2="99.00" y2="1147.08" stroke="#000" stroke-width="0.8" />
<line x1="101.00" y1="1177.90" x2="97.50" y2="1177.90" stroke="#000" stroke-width="1.2" />
<line x1="101.00" y1="1200.48" x2="99.00" y2="1200.48" stroke="#000" stroke-width="0.8" />
<line x1="101.00" y1="1194.79" x2="99.00" y2="1194.79" stroke="#000" stroke-width="0.8" />
<line x1="101.00" y1="1190.75" x2="99.00" y2="1190.75" stroke="#000" stroke-width="0.8" />
<line x1="101.00" y1="1187.62" x2="99.00" y2="1187.62" stroke="#000" stroke-width="0.8" />
<line x1="101.00" y1="1185.07" x2="99.00" y2="1185.07" stroke="#000" stroke-width="0.8" />
<line x1="101.00" y1="1182.90" x2="99.00" y2="1182.90" stroke="#000" stroke-width="0.8" />
<line x1="101.00" y1="1181.03" x2="99.00" y2="1181.03" stroke="#000" stroke-width="0.8" />
<line x1="101.00" y1="1179.38" x2="99.00" y2="1179.38" stroke="#000" stroke-width="0.8" />
<line x1="101.00" y1="1210.20" x2="97.50" y2="1210.20" stroke="#000" stroke-width="1.2" />
<text x="96.80" y="1084.00" font-size="8.5" text-anchor="end" font-weight="normal" fill="#333" >0.1</text>
<text x="96.80" y="1116.30" font-size="8.5" text-anchor="end" font-weight="normal" fill="#333" >0.01</text>
<text x="96.80" y="1148.60" font-size="8.5" text-anchor="end" font-weight="normal" fill="#333" >0.001</text>
<text x="96.80" y="1180.90" font-size="8.5" text-anchor="end" font-weight="normal" fill="#333" >0.0001</text>
<text x="96.80" y="1213.20" font-size="8.5" text-anchor="end" font-weight="normal" fill="#333" >0.00001</text>
<line x1="100.00" y1="1210.20" x2="424.30" y2="1210.20" stroke="#000" stroke-width="1.6" />
<line x1="423.60" y1="1081.00" x2="423.60" y2="1211.00" stroke="#000" stroke-width="1.6" />
<line x1="423.60" y1="1081.00" x2="427.00" y2="1081.00" stroke="#000" stroke-width="1.2" />
<text x="428.00" y="1084.00" font-size="8.5" text-anchor="start" font-weight="normal" fill="#333" >0.20</text>
<line x1="423.60" y1="1113.30" x2="427.00" y2="1113.30" stroke="#000" stroke-width="1.2" />
<text x="428.00" y="1116.30" font-size="8.5" text-anchor="start" font-weight="normal" fill="#333" >0.15</text>
<line x1="423.60" y1="1145.60" x2="427.00" y2="1145.60" stroke="#000" stroke-width="1.2" />
<text x="428.00" y="1148.60" font-size="8.5" text-anchor="start" font-weight="normal" fill="#333" >0.10</text>
<line x1="423.60" y1="1177.90" x2="427.00" y2="1177.90" stroke="#000" stroke-width="1.2" />
<text x="428.00" y="1180.90" font-size="8.5" text-anchor="start" font-weight="normal" fill="#333" >0.05</text>
<line x1="423.60" y1="1210.20" x2="427.00" y2="1210.20" stroke="#000" stroke-width="1.2" />
<text x="428.00" y="1213.20" font-size="8.5" text-anchor="start" font-weight="normal" fill="#333" >0.00</text>
<line x1="102.50" y1="1200.00" x2="422.50" y2="1200.00" stroke="#8a8a8a" stroke-width="1.9" stroke-dasharray="2,1.5"/>
<text x="428.80" y="1202.50" font-size="7.35" text-anchor="start" font-weight="normal" fill="#333" >Cut-off FISH positivity</text>
<rect x="122.50" y="1164.60" width="10.00" height="45.60" fill="#fff" stroke="#000" stroke-width="1.2" />
<rect x="283.80" y="1145.60" width="10.20" height="64.60" fill="#fff" stroke="#000" stroke-width="1.2" />
<rect x="337.80" y="1180.30" width="9.80" height="29.90" fill="#fff" stroke="#000" stroke-width="1.2" />
<rect x="391.50" y="1195.70" width="9.20" height="14.50" fill="#fff" stroke="#000" stroke-width="1.2" />
<path d="M177,1210.2 V1205.2 Q177,1202.2 180,1202.2 H184 Q187,1202.2 187,1205.2 V1210.2" fill="#fff" stroke="#888" stroke-width="1.2"/>
<path d="M230,1210.2 V1205.4 Q230,1202.4 233,1202.4 H237.5 Q240.5,1202.4 240.5,1205.4 V1210.2" fill="#fff" stroke="#888" stroke-width="1.2"/>
<path d="M125.00,1106.19 L131.60,1106.19 L128.30,1111.81 Z" fill="#000"/>
<path d="M177.70,1181.19 L184.30,1181.19 L181.00,1186.81 Z" fill="#000"/>
<path d="M231.70,1179.79 L238.30,1179.79 L235.00,1185.40 Z" fill="#000"/>
<path d="M285.40,1108.49 L292.00,1108.49 L288.70,1114.11 Z" fill="#000"/>
<path d="M338.70,1094.79 L345.30,1094.79 L342.00,1100.40 Z" fill="#000"/>
<path d="M392.50,1131.69 L399.10,1131.69 L395.80,1137.31 Z" fill="#000"/>
<text x="195.00" y="1185.50" font-size="8" text-anchor="middle" font-weight="normal" fill="#000" >*</text>
<text x="128.00" y="1222.40" font-size="8.7" text-anchor="middle" font-weight="normal" fill="#222" >Whole BM</text>
<text x="181.20" y="1222.40" font-size="8.7" text-anchor="middle" font-weight="normal" fill="#222" >B-cells</text>
<text x="235.30" y="1222.40" font-size="8.7" text-anchor="middle" font-weight="normal" fill="#222" >T-cells</text>
<text x="288.80" y="1222.40" font-size="8.7" text-anchor="middle" font-weight="normal" fill="#222" >Neutrophils</text>
<text x="342.70" y="1222.40" font-size="8.7" text-anchor="middle" font-weight="normal" fill="#222" >CD34+ cells</text>
<text x="396.00" y="1222.40" font-size="8.7" text-anchor="middle" font-weight="normal" fill="#222" >Pre-B cells</text>
<text x="104.80" y="1235.00" font-size="8.1" text-anchor="start" font-weight="normal" fill="#333" >*: Positive but not quantifiable</text>
<text transform="translate(55.9,1142.7) rotate(-90)" font-size="9.4" font-weight="bold" text-anchor="middle" fill="#1a1a1a">BCR-ABL expression <tspan font-weight="normal" fill="#333">(K562 eq)</tspan></text>
<text transform="translate(460.6,1144.9) rotate(90)" font-size="8.9" font-weight="bold" text-anchor="middle" fill="#222">Ph+ cells</text>
</svg>
</body></html>
